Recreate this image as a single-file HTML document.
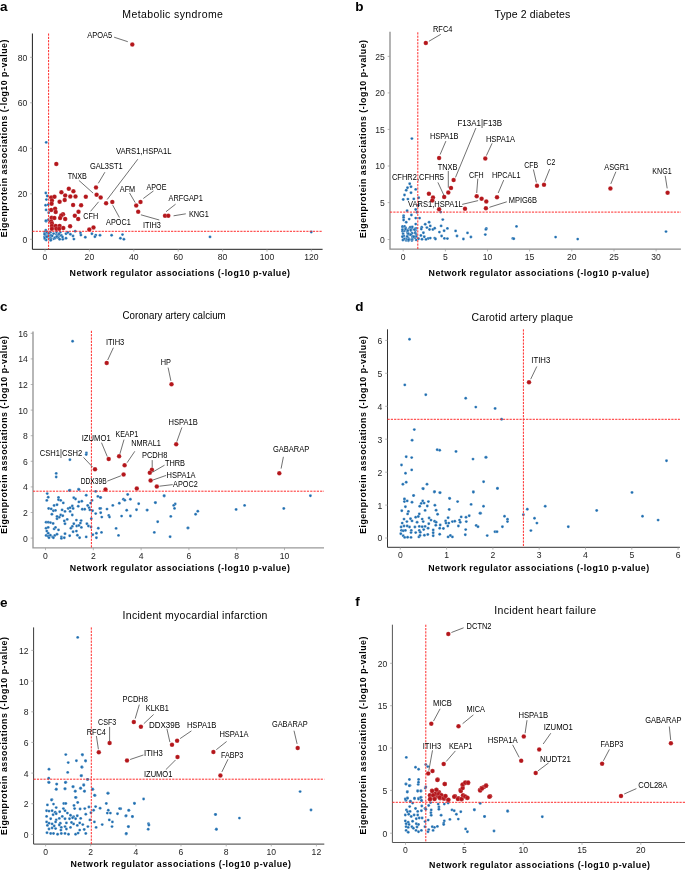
<!DOCTYPE html>
<html><head><meta charset="utf-8"><style>
html,body{margin:0;padding:0;background:#fff;}
svg{display:block;font-family:"Liberation Sans",sans-serif;will-change:transform;}
</style></head><body>
<svg width="685" height="870" viewBox="0 0 685 870">
<rect width="685" height="870" fill="#fff"/>
<text x="0.0" y="10.5" font-size="13.5" text-anchor="start" font-weight="bold" fill="#000">a</text>
<text x="172.6" y="18.0" font-size="10.5" text-anchor="middle" textLength="100.7" lengthAdjust="spacing">Metabolic syndrome</text>
<text x="7.4" y="138.4" font-size="8.8" text-anchor="middle" font-weight="bold" textLength="197.6" lengthAdjust="spacing" transform="rotate(-90 7.4 138.4)" fill="#000">Eigenprotein associations (-log10 p-value)</text>
<text x="179.8" y="275.9" font-size="8.8" text-anchor="middle" font-weight="bold" textLength="220.4" lengthAdjust="spacing" fill="#000">Network regulator associations (-log10 p-value)</text>
<path d="M32.4,33.5 V249.3 H322.6" stroke="#1e1e1e" stroke-width="1" fill="none"/>
<path d="M30.099999999999998,239.3 H32.4" stroke="#999" stroke-width="0.7"/>
<text x="27.3" y="242.7" font-size="8.6" text-anchor="end" fill="#1e1e1e">0</text>
<path d="M30.099999999999998,193.8 H32.4" stroke="#999" stroke-width="0.7"/>
<text x="27.3" y="197.2" font-size="8.6" text-anchor="end" fill="#1e1e1e">20</text>
<path d="M30.099999999999998,148.3 H32.4" stroke="#999" stroke-width="0.7"/>
<text x="27.3" y="151.7" font-size="8.6" text-anchor="end" fill="#1e1e1e">40</text>
<path d="M30.099999999999998,102.8 H32.4" stroke="#999" stroke-width="0.7"/>
<text x="27.3" y="106.2" font-size="8.6" text-anchor="end" fill="#1e1e1e">60</text>
<path d="M30.099999999999998,57.3 H32.4" stroke="#999" stroke-width="0.7"/>
<text x="27.3" y="60.7" font-size="8.6" text-anchor="end" fill="#1e1e1e">80</text>
<path d="M45.0,249.3 V251.60000000000002" stroke="#999" stroke-width="0.7"/>
<text x="45.0" y="259.9" font-size="8.6" text-anchor="middle" fill="#1e1e1e">0</text>
<path d="M89.4,249.3 V251.60000000000002" stroke="#999" stroke-width="0.7"/>
<text x="89.4" y="259.9" font-size="8.6" text-anchor="middle" fill="#1e1e1e">20</text>
<path d="M133.8,249.3 V251.60000000000002" stroke="#999" stroke-width="0.7"/>
<text x="133.8" y="259.9" font-size="8.6" text-anchor="middle" fill="#1e1e1e">40</text>
<path d="M178.2,249.3 V251.60000000000002" stroke="#999" stroke-width="0.7"/>
<text x="178.2" y="259.9" font-size="8.6" text-anchor="middle" fill="#1e1e1e">60</text>
<path d="M222.6,249.3 V251.60000000000002" stroke="#999" stroke-width="0.7"/>
<text x="222.6" y="259.9" font-size="8.6" text-anchor="middle" fill="#1e1e1e">80</text>
<path d="M267.0,249.3 V251.60000000000002" stroke="#999" stroke-width="0.7"/>
<text x="267.0" y="259.9" font-size="8.6" text-anchor="middle" fill="#1e1e1e">100</text>
<path d="M311.4,249.3 V251.60000000000002" stroke="#999" stroke-width="0.7"/>
<text x="311.4" y="259.9" font-size="8.6" text-anchor="middle" fill="#1e1e1e">120</text>
<circle cx="46.2" cy="142.4" r="1.45" fill="#1f6eb0" stroke="#fff" stroke-width="0.35" stroke-opacity="0.7"/>
<circle cx="45.8" cy="193.0" r="1.45" fill="#1f6eb0" stroke="#fff" stroke-width="0.35" stroke-opacity="0.7"/>
<circle cx="47.2" cy="196.0" r="1.45" fill="#1f6eb0" stroke="#fff" stroke-width="0.35" stroke-opacity="0.7"/>
<circle cx="46.4" cy="199.6" r="1.45" fill="#1f6eb0" stroke="#fff" stroke-width="0.35" stroke-opacity="0.7"/>
<circle cx="45.6" cy="205.2" r="1.45" fill="#1f6eb0" stroke="#fff" stroke-width="0.35" stroke-opacity="0.7"/>
<circle cx="48.2" cy="204.7" r="1.45" fill="#1f6eb0" stroke="#fff" stroke-width="0.35" stroke-opacity="0.7"/>
<circle cx="46.1" cy="209.9" r="1.45" fill="#1f6eb0" stroke="#fff" stroke-width="0.35" stroke-opacity="0.7"/>
<circle cx="48.7" cy="212.8" r="1.45" fill="#1f6eb0" stroke="#fff" stroke-width="0.35" stroke-opacity="0.7"/>
<circle cx="46.1" cy="221.2" r="1.45" fill="#1f6eb0" stroke="#fff" stroke-width="0.35" stroke-opacity="0.7"/>
<circle cx="48.2" cy="220.0" r="1.45" fill="#1f6eb0" stroke="#fff" stroke-width="0.35" stroke-opacity="0.7"/>
<circle cx="45.8" cy="230.3" r="1.45" fill="#1f6eb0" stroke="#fff" stroke-width="0.35" stroke-opacity="0.7"/>
<circle cx="45.9" cy="220.7" r="1.45" fill="#1f6eb0" stroke="#fff" stroke-width="0.35" stroke-opacity="0.7"/>
<circle cx="66.0" cy="233.8" r="1.45" fill="#1f6eb0" stroke="#fff" stroke-width="0.35" stroke-opacity="0.7"/>
<circle cx="67.8" cy="232.5" r="1.45" fill="#1f6eb0" stroke="#fff" stroke-width="0.35" stroke-opacity="0.7"/>
<circle cx="70.4" cy="234.3" r="1.45" fill="#1f6eb0" stroke="#fff" stroke-width="0.35" stroke-opacity="0.7"/>
<circle cx="73.0" cy="236.0" r="1.45" fill="#1f6eb0" stroke="#fff" stroke-width="0.35" stroke-opacity="0.7"/>
<circle cx="73.9" cy="239.1" r="1.45" fill="#1f6eb0" stroke="#fff" stroke-width="0.35" stroke-opacity="0.7"/>
<circle cx="66.0" cy="238.2" r="1.45" fill="#1f6eb0" stroke="#fff" stroke-width="0.35" stroke-opacity="0.7"/>
<circle cx="75.2" cy="231.2" r="1.45" fill="#1f6eb0" stroke="#fff" stroke-width="0.35" stroke-opacity="0.7"/>
<circle cx="80.5" cy="233.0" r="1.45" fill="#1f6eb0" stroke="#fff" stroke-width="0.35" stroke-opacity="0.7"/>
<circle cx="80.9" cy="235.1" r="1.45" fill="#1f6eb0" stroke="#fff" stroke-width="0.35" stroke-opacity="0.7"/>
<circle cx="85.3" cy="237.3" r="1.45" fill="#1f6eb0" stroke="#fff" stroke-width="0.35" stroke-opacity="0.7"/>
<circle cx="91.9" cy="233.8" r="1.45" fill="#1f6eb0" stroke="#fff" stroke-width="0.35" stroke-opacity="0.7"/>
<circle cx="95.8" cy="235.1" r="1.45" fill="#1f6eb0" stroke="#fff" stroke-width="0.35" stroke-opacity="0.7"/>
<circle cx="94.9" cy="236.7" r="1.45" fill="#1f6eb0" stroke="#fff" stroke-width="0.35" stroke-opacity="0.7"/>
<circle cx="100.0" cy="235.3" r="1.45" fill="#1f6eb0" stroke="#fff" stroke-width="0.35" stroke-opacity="0.7"/>
<circle cx="111.6" cy="235.3" r="1.45" fill="#1f6eb0" stroke="#fff" stroke-width="0.35" stroke-opacity="0.7"/>
<circle cx="122.5" cy="234.6" r="1.45" fill="#1f6eb0" stroke="#fff" stroke-width="0.35" stroke-opacity="0.7"/>
<circle cx="120.4" cy="238.3" r="1.45" fill="#1f6eb0" stroke="#fff" stroke-width="0.35" stroke-opacity="0.7"/>
<circle cx="123.9" cy="239.3" r="1.45" fill="#1f6eb0" stroke="#fff" stroke-width="0.35" stroke-opacity="0.7"/>
<circle cx="210.0" cy="236.9" r="1.45" fill="#1f6eb0" stroke="#fff" stroke-width="0.35" stroke-opacity="0.7"/>
<circle cx="311.3" cy="232.0" r="1.45" fill="#1f6eb0" stroke="#fff" stroke-width="0.35" stroke-opacity="0.7"/>
<circle cx="45.2" cy="239.2" r="1.45" fill="#1f6eb0" stroke="#fff" stroke-width="0.35" stroke-opacity="0.7"/>
<circle cx="56.5" cy="234.2" r="1.45" fill="#1f6eb0" stroke="#fff" stroke-width="0.35" stroke-opacity="0.7"/>
<circle cx="50.5" cy="235.8" r="1.45" fill="#1f6eb0" stroke="#fff" stroke-width="0.35" stroke-opacity="0.7"/>
<circle cx="53.8" cy="238.7" r="1.45" fill="#1f6eb0" stroke="#fff" stroke-width="0.35" stroke-opacity="0.7"/>
<circle cx="44.9" cy="232.2" r="1.45" fill="#1f6eb0" stroke="#fff" stroke-width="0.35" stroke-opacity="0.7"/>
<circle cx="58.4" cy="235.7" r="1.45" fill="#1f6eb0" stroke="#fff" stroke-width="0.35" stroke-opacity="0.7"/>
<circle cx="56.5" cy="232.0" r="1.45" fill="#1f6eb0" stroke="#fff" stroke-width="0.35" stroke-opacity="0.7"/>
<circle cx="49.6" cy="238.1" r="1.45" fill="#1f6eb0" stroke="#fff" stroke-width="0.35" stroke-opacity="0.7"/>
<circle cx="46.2" cy="240.0" r="1.45" fill="#1f6eb0" stroke="#fff" stroke-width="0.35" stroke-opacity="0.7"/>
<circle cx="60.2" cy="232.3" r="1.45" fill="#1f6eb0" stroke="#fff" stroke-width="0.35" stroke-opacity="0.7"/>
<circle cx="44.6" cy="236.6" r="1.45" fill="#1f6eb0" stroke="#fff" stroke-width="0.35" stroke-opacity="0.7"/>
<circle cx="61.2" cy="235.2" r="1.45" fill="#1f6eb0" stroke="#fff" stroke-width="0.35" stroke-opacity="0.7"/>
<circle cx="46.1" cy="235.6" r="1.45" fill="#1f6eb0" stroke="#fff" stroke-width="0.35" stroke-opacity="0.7"/>
<circle cx="44.6" cy="233.9" r="1.45" fill="#1f6eb0" stroke="#fff" stroke-width="0.35" stroke-opacity="0.7"/>
<circle cx="49.4" cy="236.2" r="1.45" fill="#1f6eb0" stroke="#fff" stroke-width="0.35" stroke-opacity="0.7"/>
<circle cx="46.3" cy="234.0" r="1.45" fill="#1f6eb0" stroke="#fff" stroke-width="0.35" stroke-opacity="0.7"/>
<circle cx="46.1" cy="235.9" r="1.45" fill="#1f6eb0" stroke="#fff" stroke-width="0.35" stroke-opacity="0.7"/>
<circle cx="47.0" cy="232.2" r="1.45" fill="#1f6eb0" stroke="#fff" stroke-width="0.35" stroke-opacity="0.7"/>
<circle cx="58.4" cy="236.7" r="1.45" fill="#1f6eb0" stroke="#fff" stroke-width="0.35" stroke-opacity="0.7"/>
<circle cx="53.6" cy="233.6" r="1.45" fill="#1f6eb0" stroke="#fff" stroke-width="0.35" stroke-opacity="0.7"/>
<circle cx="62.8" cy="239.3" r="1.45" fill="#1f6eb0" stroke="#fff" stroke-width="0.35" stroke-opacity="0.7"/>
<circle cx="45.1" cy="234.8" r="1.45" fill="#1f6eb0" stroke="#fff" stroke-width="0.35" stroke-opacity="0.7"/>
<circle cx="55.5" cy="238.0" r="1.45" fill="#1f6eb0" stroke="#fff" stroke-width="0.35" stroke-opacity="0.7"/>
<circle cx="61.2" cy="235.6" r="1.45" fill="#1f6eb0" stroke="#fff" stroke-width="0.35" stroke-opacity="0.7"/>
<circle cx="58.2" cy="237.7" r="1.45" fill="#1f6eb0" stroke="#fff" stroke-width="0.35" stroke-opacity="0.7"/>
<circle cx="47.2" cy="237.0" r="1.45" fill="#1f6eb0" stroke="#fff" stroke-width="0.35" stroke-opacity="0.7"/>
<circle cx="59.6" cy="239.2" r="1.45" fill="#1f6eb0" stroke="#fff" stroke-width="0.35" stroke-opacity="0.7"/>
<circle cx="50.7" cy="237.0" r="1.45" fill="#1f6eb0" stroke="#fff" stroke-width="0.35" stroke-opacity="0.7"/>
<circle cx="44.6" cy="234.1" r="1.45" fill="#1f6eb0" stroke="#fff" stroke-width="0.35" stroke-opacity="0.7"/>
<circle cx="57.4" cy="235.5" r="1.45" fill="#1f6eb0" stroke="#fff" stroke-width="0.35" stroke-opacity="0.7"/>
<circle cx="45.6" cy="236.7" r="1.45" fill="#1f6eb0" stroke="#fff" stroke-width="0.35" stroke-opacity="0.7"/>
<circle cx="55.0" cy="237.7" r="1.45" fill="#1f6eb0" stroke="#fff" stroke-width="0.35" stroke-opacity="0.7"/>
<circle cx="48.3" cy="235.7" r="1.45" fill="#1f6eb0" stroke="#fff" stroke-width="0.35" stroke-opacity="0.7"/>
<circle cx="50.8" cy="238.6" r="1.45" fill="#1f6eb0" stroke="#fff" stroke-width="0.35" stroke-opacity="0.7"/>
<circle cx="51.0" cy="235.3" r="1.45" fill="#1f6eb0" stroke="#fff" stroke-width="0.35" stroke-opacity="0.7"/>
<circle cx="50.4" cy="232.3" r="1.45" fill="#1f6eb0" stroke="#fff" stroke-width="0.35" stroke-opacity="0.7"/>
<circle cx="44.6" cy="238.0" r="1.45" fill="#1f6eb0" stroke="#fff" stroke-width="0.35" stroke-opacity="0.7"/>
<circle cx="62.5" cy="237.0" r="1.45" fill="#1f6eb0" stroke="#fff" stroke-width="0.35" stroke-opacity="0.7"/>
<circle cx="48.7" cy="233.4" r="1.45" fill="#1f6eb0" stroke="#fff" stroke-width="0.35" stroke-opacity="0.7"/>
<circle cx="50.6" cy="240.3" r="1.45" fill="#1f6eb0" stroke="#fff" stroke-width="0.35" stroke-opacity="0.7"/>
<circle cx="56.7" cy="236.6" r="1.45" fill="#1f6eb0" stroke="#fff" stroke-width="0.35" stroke-opacity="0.7"/>
<circle cx="59.0" cy="234.0" r="1.45" fill="#1f6eb0" stroke="#fff" stroke-width="0.35" stroke-opacity="0.7"/>
<circle cx="50.9" cy="240.1" r="1.45" fill="#1f6eb0" stroke="#fff" stroke-width="0.35" stroke-opacity="0.7"/>
<circle cx="52.2" cy="235.9" r="1.45" fill="#1f6eb0" stroke="#fff" stroke-width="0.35" stroke-opacity="0.7"/>
<circle cx="46.8" cy="236.7" r="1.45" fill="#1f6eb0" stroke="#fff" stroke-width="0.35" stroke-opacity="0.7"/>
<circle cx="132.3" cy="44.5" r="2.25" fill="#b4161b" stroke="#fff" stroke-width="0.3" stroke-opacity="0.6"/>
<circle cx="56.3" cy="163.9" r="2.25" fill="#b4161b" stroke="#fff" stroke-width="0.3" stroke-opacity="0.6"/>
<circle cx="96.0" cy="187.4" r="2.25" fill="#b4161b" stroke="#fff" stroke-width="0.3" stroke-opacity="0.6"/>
<circle cx="68.8" cy="188.7" r="2.25" fill="#b4161b" stroke="#fff" stroke-width="0.3" stroke-opacity="0.6"/>
<circle cx="73.4" cy="191.3" r="2.25" fill="#b4161b" stroke="#fff" stroke-width="0.3" stroke-opacity="0.6"/>
<circle cx="61.4" cy="192.3" r="2.25" fill="#b4161b" stroke="#fff" stroke-width="0.3" stroke-opacity="0.6"/>
<circle cx="65.2" cy="195.4" r="2.25" fill="#b4161b" stroke="#fff" stroke-width="0.3" stroke-opacity="0.6"/>
<circle cx="70.3" cy="196.4" r="2.25" fill="#b4161b" stroke="#fff" stroke-width="0.3" stroke-opacity="0.6"/>
<circle cx="75.5" cy="196.4" r="2.25" fill="#b4161b" stroke="#fff" stroke-width="0.3" stroke-opacity="0.6"/>
<circle cx="85.8" cy="196.7" r="2.25" fill="#b4161b" stroke="#fff" stroke-width="0.3" stroke-opacity="0.6"/>
<circle cx="96.6" cy="194.7" r="2.25" fill="#b4161b" stroke="#fff" stroke-width="0.3" stroke-opacity="0.6"/>
<circle cx="100.7" cy="197.4" r="2.25" fill="#b4161b" stroke="#fff" stroke-width="0.3" stroke-opacity="0.6"/>
<circle cx="51.2" cy="197.4" r="2.25" fill="#b4161b" stroke="#fff" stroke-width="0.3" stroke-opacity="0.6"/>
<circle cx="54.5" cy="196.7" r="2.25" fill="#b4161b" stroke="#fff" stroke-width="0.3" stroke-opacity="0.6"/>
<circle cx="51.9" cy="200.5" r="2.25" fill="#b4161b" stroke="#fff" stroke-width="0.3" stroke-opacity="0.6"/>
<circle cx="64.7" cy="199.9" r="2.25" fill="#b4161b" stroke="#fff" stroke-width="0.3" stroke-opacity="0.6"/>
<circle cx="59.6" cy="201.8" r="2.25" fill="#b4161b" stroke="#fff" stroke-width="0.3" stroke-opacity="0.6"/>
<circle cx="51.6" cy="203.7" r="2.25" fill="#b4161b" stroke="#fff" stroke-width="0.3" stroke-opacity="0.6"/>
<circle cx="73.1" cy="204.9" r="2.25" fill="#b4161b" stroke="#fff" stroke-width="0.3" stroke-opacity="0.6"/>
<circle cx="81.1" cy="205.2" r="2.25" fill="#b4161b" stroke="#fff" stroke-width="0.3" stroke-opacity="0.6"/>
<circle cx="106.1" cy="203.2" r="2.25" fill="#b4161b" stroke="#fff" stroke-width="0.3" stroke-opacity="0.6"/>
<circle cx="112.3" cy="201.9" r="2.25" fill="#b4161b" stroke="#fff" stroke-width="0.3" stroke-opacity="0.6"/>
<circle cx="51.2" cy="209.9" r="2.25" fill="#b4161b" stroke="#fff" stroke-width="0.3" stroke-opacity="0.6"/>
<circle cx="55.1" cy="208.7" r="2.25" fill="#b4161b" stroke="#fff" stroke-width="0.3" stroke-opacity="0.6"/>
<circle cx="55.7" cy="211.9" r="2.25" fill="#b4161b" stroke="#fff" stroke-width="0.3" stroke-opacity="0.6"/>
<circle cx="78.5" cy="211.8" r="2.25" fill="#b4161b" stroke="#fff" stroke-width="0.3" stroke-opacity="0.6"/>
<circle cx="63.0" cy="214.2" r="2.25" fill="#b4161b" stroke="#fff" stroke-width="0.3" stroke-opacity="0.6"/>
<circle cx="61.2" cy="215.4" r="2.25" fill="#b4161b" stroke="#fff" stroke-width="0.3" stroke-opacity="0.6"/>
<circle cx="74.8" cy="215.7" r="2.25" fill="#b4161b" stroke="#fff" stroke-width="0.3" stroke-opacity="0.6"/>
<circle cx="51.6" cy="217.7" r="2.25" fill="#b4161b" stroke="#fff" stroke-width="0.3" stroke-opacity="0.6"/>
<circle cx="54.4" cy="217.9" r="2.25" fill="#b4161b" stroke="#fff" stroke-width="0.3" stroke-opacity="0.6"/>
<circle cx="60.1" cy="218.0" r="2.25" fill="#b4161b" stroke="#fff" stroke-width="0.3" stroke-opacity="0.6"/>
<circle cx="65.2" cy="218.9" r="2.25" fill="#b4161b" stroke="#fff" stroke-width="0.3" stroke-opacity="0.6"/>
<circle cx="78.2" cy="218.9" r="2.25" fill="#b4161b" stroke="#fff" stroke-width="0.3" stroke-opacity="0.6"/>
<circle cx="51.2" cy="221.5" r="2.25" fill="#b4161b" stroke="#fff" stroke-width="0.3" stroke-opacity="0.6"/>
<circle cx="51.9" cy="223.4" r="2.25" fill="#b4161b" stroke="#fff" stroke-width="0.3" stroke-opacity="0.6"/>
<circle cx="51.9" cy="225.9" r="2.25" fill="#b4161b" stroke="#fff" stroke-width="0.3" stroke-opacity="0.6"/>
<circle cx="55.7" cy="225.9" r="2.25" fill="#b4161b" stroke="#fff" stroke-width="0.3" stroke-opacity="0.6"/>
<circle cx="59.6" cy="225.9" r="2.25" fill="#b4161b" stroke="#fff" stroke-width="0.3" stroke-opacity="0.6"/>
<circle cx="70.1" cy="226.2" r="2.25" fill="#b4161b" stroke="#fff" stroke-width="0.3" stroke-opacity="0.6"/>
<circle cx="51.9" cy="228.8" r="2.25" fill="#b4161b" stroke="#fff" stroke-width="0.3" stroke-opacity="0.6"/>
<circle cx="56.3" cy="228.8" r="2.25" fill="#b4161b" stroke="#fff" stroke-width="0.3" stroke-opacity="0.6"/>
<circle cx="59.2" cy="228.8" r="2.25" fill="#b4161b" stroke="#fff" stroke-width="0.3" stroke-opacity="0.6"/>
<circle cx="63.3" cy="228.1" r="2.25" fill="#b4161b" stroke="#fff" stroke-width="0.3" stroke-opacity="0.6"/>
<circle cx="89.3" cy="229.6" r="2.25" fill="#b4161b" stroke="#fff" stroke-width="0.3" stroke-opacity="0.6"/>
<circle cx="93.5" cy="227.4" r="2.25" fill="#b4161b" stroke="#fff" stroke-width="0.3" stroke-opacity="0.6"/>
<circle cx="136.2" cy="205.6" r="2.25" fill="#b4161b" stroke="#fff" stroke-width="0.3" stroke-opacity="0.6"/>
<circle cx="140.5" cy="201.9" r="2.25" fill="#b4161b" stroke="#fff" stroke-width="0.3" stroke-opacity="0.6"/>
<circle cx="138.2" cy="211.7" r="2.25" fill="#b4161b" stroke="#fff" stroke-width="0.3" stroke-opacity="0.6"/>
<circle cx="165.0" cy="215.8" r="2.25" fill="#b4161b" stroke="#fff" stroke-width="0.3" stroke-opacity="0.6"/>
<circle cx="168.3" cy="215.8" r="2.25" fill="#b4161b" stroke="#fff" stroke-width="0.3" stroke-opacity="0.6"/>
<path d="M48.6,33.5 V249.3" stroke="#ff2b2b" stroke-width="1" stroke-dasharray="2.2 1.1"/>
<path d="M32.4,231.3 H322.6" stroke="#ff2b2b" stroke-width="1" stroke-dasharray="2.2 1.1"/>
<path d="M114.1,37.2 L127.8,41.7" stroke="#333" stroke-width="0.7"/>
<text x="87.3" y="37.6" font-size="8.2" text-anchor="start" textLength="24.9" lengthAdjust="spacingAndGlyphs">APOA5</text>
<path d="M104.9,172.2 L98.3,183.3" stroke="#333" stroke-width="0.7"/>
<text x="89.9" y="168.7" font-size="8.2" text-anchor="start" textLength="32.8" lengthAdjust="spacingAndGlyphs">GAL3ST1</text>
<path d="M78.9,180.4 L93.1,193.1" stroke="#333" stroke-width="0.7"/>
<text x="67.7" y="179.2" font-size="8.2" text-anchor="start" textLength="19.2" lengthAdjust="spacingAndGlyphs">TNXB</text>
<path d="M90.6,211.3 L98.6,201.8" stroke="#333" stroke-width="0.7"/>
<text x="83.3" y="218.6" font-size="8.2" text-anchor="start" textLength="14.9" lengthAdjust="spacingAndGlyphs">CFH</text>
<path d="M137.8,159.2 L107.2,199.5" stroke="#333" stroke-width="0.7"/>
<text x="115.9" y="153.9" font-size="8.2" text-anchor="start" textLength="55.6" lengthAdjust="spacingAndGlyphs">VARS1,HSPA1L</text>
<path d="M129.6,193 L135.2,202.6" stroke="#333" stroke-width="0.7"/>
<text x="119.8" y="192.2" font-size="8.2" text-anchor="start" textLength="15.4" lengthAdjust="spacingAndGlyphs">AFM</text>
<path d="M153.5,190.9 L143.3,198.5" stroke="#333" stroke-width="0.7"/>
<text x="146.6" y="189.5" font-size="8.2" text-anchor="start" textLength="19.8" lengthAdjust="spacingAndGlyphs">APOE</text>
<path d="M175.6,204.2 L166,211.7" stroke="#333" stroke-width="0.7"/>
<text x="168.5" y="200.9" font-size="8.2" text-anchor="start" textLength="34.3" lengthAdjust="spacingAndGlyphs">ARFGAP1</text>
<path d="M185.8,213.8 L173.6,215.8" stroke="#333" stroke-width="0.7"/>
<text x="188.9" y="217.3" font-size="8.2" text-anchor="start" textLength="20.0" lengthAdjust="spacingAndGlyphs">KNG1</text>
<path d="M119.4,217.5 L112.7,205.2" stroke="#333" stroke-width="0.7"/>
<text x="106.1" y="225.3" font-size="8.2" text-anchor="start" textLength="24.6" lengthAdjust="spacingAndGlyphs">APOC1</text>
<path d="M159.3,220 L140.9,214.8" stroke="#333" stroke-width="0.7"/>
<text x="142.9" y="227.9" font-size="8.2" text-anchor="start" textLength="18.0" lengthAdjust="spacingAndGlyphs">ITIH3</text>
<text x="355.3" y="11.2" font-size="13.5" text-anchor="start" font-weight="bold" fill="#000">b</text>
<text x="532.4" y="18.0" font-size="10.5" text-anchor="middle" textLength="75.7" lengthAdjust="spacing">Type 2 diabetes</text>
<text x="366.4" y="139.0" font-size="8.8" text-anchor="middle" font-weight="bold" textLength="198" lengthAdjust="spacing" transform="rotate(-90 366.4 139.0)" fill="#000">Eigenprotein associations (-log10 p-value)</text>
<text x="538.9" y="275.9" font-size="8.8" text-anchor="middle" font-weight="bold" textLength="220.6" lengthAdjust="spacing" fill="#000">Network regulator associations (-log10 p-value)</text>
<path d="M390.0,31.7 V249.1 H680.9" stroke="#8c8c8c" stroke-width="1.3" fill="none"/>
<path d="M387.7,239.5 H390.0" stroke="#999" stroke-width="0.7"/>
<text x="384.9" y="242.9" font-size="8.6" text-anchor="end" fill="#1e1e1e">0</text>
<path d="M387.7,202.6 H390.0" stroke="#999" stroke-width="0.7"/>
<text x="384.9" y="206.0" font-size="8.6" text-anchor="end" fill="#1e1e1e">5</text>
<path d="M387.7,166.0 H390.0" stroke="#999" stroke-width="0.7"/>
<text x="384.9" y="169.4" font-size="8.6" text-anchor="end" fill="#1e1e1e">10</text>
<path d="M387.7,129.4 H390.0" stroke="#999" stroke-width="0.7"/>
<text x="384.9" y="132.8" font-size="8.6" text-anchor="end" fill="#1e1e1e">15</text>
<path d="M387.7,92.9 H390.0" stroke="#999" stroke-width="0.7"/>
<text x="384.9" y="96.3" font-size="8.6" text-anchor="end" fill="#1e1e1e">20</text>
<path d="M387.7,56.4 H390.0" stroke="#999" stroke-width="0.7"/>
<text x="384.9" y="59.8" font-size="8.6" text-anchor="end" fill="#1e1e1e">25</text>
<path d="M403.2,249.1 V251.4" stroke="#999" stroke-width="0.7"/>
<text x="403.2" y="259.7" font-size="8.6" text-anchor="middle" fill="#1e1e1e">0</text>
<path d="M445.4,249.1 V251.4" stroke="#999" stroke-width="0.7"/>
<text x="445.4" y="259.7" font-size="8.6" text-anchor="middle" fill="#1e1e1e">5</text>
<path d="M487.5,249.1 V251.4" stroke="#999" stroke-width="0.7"/>
<text x="487.5" y="259.7" font-size="8.6" text-anchor="middle" fill="#1e1e1e">10</text>
<path d="M529.6,249.1 V251.4" stroke="#999" stroke-width="0.7"/>
<text x="529.6" y="259.7" font-size="8.6" text-anchor="middle" fill="#1e1e1e">15</text>
<path d="M571.8,249.1 V251.4" stroke="#999" stroke-width="0.7"/>
<text x="571.8" y="259.7" font-size="8.6" text-anchor="middle" fill="#1e1e1e">20</text>
<path d="M614.0,249.1 V251.4" stroke="#999" stroke-width="0.7"/>
<text x="614.0" y="259.7" font-size="8.6" text-anchor="middle" fill="#1e1e1e">25</text>
<path d="M656.1,249.1 V251.4" stroke="#999" stroke-width="0.7"/>
<text x="656.1" y="259.7" font-size="8.6" text-anchor="middle" fill="#1e1e1e">30</text>
<circle cx="411.9" cy="138.6" r="1.45" fill="#1f6eb0" stroke="#fff" stroke-width="0.35" stroke-opacity="0.7"/>
<circle cx="409.7" cy="183.8" r="1.45" fill="#1f6eb0" stroke="#fff" stroke-width="0.35" stroke-opacity="0.7"/>
<circle cx="411.0" cy="186.8" r="1.45" fill="#1f6eb0" stroke="#fff" stroke-width="0.35" stroke-opacity="0.7"/>
<circle cx="407.5" cy="187.7" r="1.45" fill="#1f6eb0" stroke="#fff" stroke-width="0.35" stroke-opacity="0.7"/>
<circle cx="406.2" cy="190.3" r="1.45" fill="#1f6eb0" stroke="#fff" stroke-width="0.35" stroke-opacity="0.7"/>
<circle cx="415.7" cy="189.4" r="1.45" fill="#1f6eb0" stroke="#fff" stroke-width="0.35" stroke-opacity="0.7"/>
<circle cx="411.0" cy="192.8" r="1.45" fill="#1f6eb0" stroke="#fff" stroke-width="0.35" stroke-opacity="0.7"/>
<circle cx="404.5" cy="195.0" r="1.45" fill="#1f6eb0" stroke="#fff" stroke-width="0.35" stroke-opacity="0.7"/>
<circle cx="403.2" cy="199.5" r="1.45" fill="#1f6eb0" stroke="#fff" stroke-width="0.35" stroke-opacity="0.7"/>
<circle cx="407.9" cy="199.1" r="1.45" fill="#1f6eb0" stroke="#fff" stroke-width="0.35" stroke-opacity="0.7"/>
<circle cx="413.8" cy="198.9" r="1.45" fill="#1f6eb0" stroke="#fff" stroke-width="0.35" stroke-opacity="0.7"/>
<circle cx="418.7" cy="197.8" r="1.45" fill="#1f6eb0" stroke="#fff" stroke-width="0.35" stroke-opacity="0.7"/>
<circle cx="418.3" cy="205.3" r="1.45" fill="#1f6eb0" stroke="#fff" stroke-width="0.35" stroke-opacity="0.7"/>
<circle cx="407.1" cy="210.7" r="1.45" fill="#1f6eb0" stroke="#fff" stroke-width="0.35" stroke-opacity="0.7"/>
<circle cx="415.7" cy="209.5" r="1.45" fill="#1f6eb0" stroke="#fff" stroke-width="0.35" stroke-opacity="0.7"/>
<circle cx="417.0" cy="212.2" r="1.45" fill="#1f6eb0" stroke="#fff" stroke-width="0.35" stroke-opacity="0.7"/>
<circle cx="440.7" cy="212.1" r="1.45" fill="#1f6eb0" stroke="#fff" stroke-width="0.35" stroke-opacity="0.7"/>
<circle cx="403.6" cy="215.7" r="1.45" fill="#1f6eb0" stroke="#fff" stroke-width="0.35" stroke-opacity="0.7"/>
<circle cx="411.4" cy="215.0" r="1.45" fill="#1f6eb0" stroke="#fff" stroke-width="0.35" stroke-opacity="0.7"/>
<circle cx="403.6" cy="217.4" r="1.45" fill="#1f6eb0" stroke="#fff" stroke-width="0.35" stroke-opacity="0.7"/>
<circle cx="409.2" cy="219.1" r="1.45" fill="#1f6eb0" stroke="#fff" stroke-width="0.35" stroke-opacity="0.7"/>
<circle cx="415.7" cy="218.1" r="1.45" fill="#1f6eb0" stroke="#fff" stroke-width="0.35" stroke-opacity="0.7"/>
<circle cx="419.6" cy="218.1" r="1.45" fill="#1f6eb0" stroke="#fff" stroke-width="0.35" stroke-opacity="0.7"/>
<circle cx="442.8" cy="219.6" r="1.45" fill="#1f6eb0" stroke="#fff" stroke-width="0.35" stroke-opacity="0.7"/>
<circle cx="403.6" cy="220.0" r="1.45" fill="#1f6eb0" stroke="#fff" stroke-width="0.35" stroke-opacity="0.7"/>
<circle cx="406.2" cy="222.2" r="1.45" fill="#1f6eb0" stroke="#fff" stroke-width="0.35" stroke-opacity="0.7"/>
<circle cx="415.7" cy="224.1" r="1.45" fill="#1f6eb0" stroke="#fff" stroke-width="0.35" stroke-opacity="0.7"/>
<circle cx="425.2" cy="224.3" r="1.45" fill="#1f6eb0" stroke="#fff" stroke-width="0.35" stroke-opacity="0.7"/>
<circle cx="429.1" cy="222.2" r="1.45" fill="#1f6eb0" stroke="#fff" stroke-width="0.35" stroke-opacity="0.7"/>
<circle cx="430.3" cy="225.9" r="1.45" fill="#1f6eb0" stroke="#fff" stroke-width="0.35" stroke-opacity="0.7"/>
<circle cx="441.1" cy="225.9" r="1.45" fill="#1f6eb0" stroke="#fff" stroke-width="0.35" stroke-opacity="0.7"/>
<circle cx="421.7" cy="227.3" r="1.45" fill="#1f6eb0" stroke="#fff" stroke-width="0.35" stroke-opacity="0.7"/>
<circle cx="426.9" cy="227.6" r="1.45" fill="#1f6eb0" stroke="#fff" stroke-width="0.35" stroke-opacity="0.7"/>
<circle cx="429.5" cy="229.5" r="1.45" fill="#1f6eb0" stroke="#fff" stroke-width="0.35" stroke-opacity="0.7"/>
<circle cx="432.9" cy="229.5" r="1.45" fill="#1f6eb0" stroke="#fff" stroke-width="0.35" stroke-opacity="0.7"/>
<circle cx="434.7" cy="228.2" r="1.45" fill="#1f6eb0" stroke="#fff" stroke-width="0.35" stroke-opacity="0.7"/>
<circle cx="421.3" cy="229.1" r="1.45" fill="#1f6eb0" stroke="#fff" stroke-width="0.35" stroke-opacity="0.7"/>
<circle cx="423.4" cy="232.8" r="1.45" fill="#1f6eb0" stroke="#fff" stroke-width="0.35" stroke-opacity="0.7"/>
<circle cx="439.4" cy="232.1" r="1.45" fill="#1f6eb0" stroke="#fff" stroke-width="0.35" stroke-opacity="0.7"/>
<circle cx="444.1" cy="230.8" r="1.45" fill="#1f6eb0" stroke="#fff" stroke-width="0.35" stroke-opacity="0.7"/>
<circle cx="441.6" cy="236.0" r="1.45" fill="#1f6eb0" stroke="#fff" stroke-width="0.35" stroke-opacity="0.7"/>
<circle cx="434.7" cy="238.1" r="1.45" fill="#1f6eb0" stroke="#fff" stroke-width="0.35" stroke-opacity="0.7"/>
<circle cx="435.5" cy="239.0" r="1.45" fill="#1f6eb0" stroke="#fff" stroke-width="0.35" stroke-opacity="0.7"/>
<circle cx="428.2" cy="238.5" r="1.45" fill="#1f6eb0" stroke="#fff" stroke-width="0.35" stroke-opacity="0.7"/>
<circle cx="430.3" cy="238.1" r="1.45" fill="#1f6eb0" stroke="#fff" stroke-width="0.35" stroke-opacity="0.7"/>
<circle cx="420.9" cy="235.5" r="1.45" fill="#1f6eb0" stroke="#fff" stroke-width="0.35" stroke-opacity="0.7"/>
<circle cx="424.3" cy="236.8" r="1.45" fill="#1f6eb0" stroke="#fff" stroke-width="0.35" stroke-opacity="0.7"/>
<circle cx="418.5" cy="238.8" r="1.45" fill="#1f6eb0" stroke="#fff" stroke-width="0.35" stroke-opacity="0.7"/>
<circle cx="422.0" cy="239.2" r="1.45" fill="#1f6eb0" stroke="#fff" stroke-width="0.35" stroke-opacity="0.7"/>
<circle cx="426.0" cy="239.4" r="1.45" fill="#1f6eb0" stroke="#fff" stroke-width="0.35" stroke-opacity="0.7"/>
<circle cx="447.4" cy="228.4" r="1.45" fill="#1f6eb0" stroke="#fff" stroke-width="0.35" stroke-opacity="0.7"/>
<circle cx="444.4" cy="238.4" r="1.45" fill="#1f6eb0" stroke="#fff" stroke-width="0.35" stroke-opacity="0.7"/>
<circle cx="447.4" cy="238.6" r="1.45" fill="#1f6eb0" stroke="#fff" stroke-width="0.35" stroke-opacity="0.7"/>
<circle cx="455.6" cy="230.9" r="1.45" fill="#1f6eb0" stroke="#fff" stroke-width="0.35" stroke-opacity="0.7"/>
<circle cx="457.0" cy="236.0" r="1.45" fill="#1f6eb0" stroke="#fff" stroke-width="0.35" stroke-opacity="0.7"/>
<circle cx="463.4" cy="239.0" r="1.45" fill="#1f6eb0" stroke="#fff" stroke-width="0.35" stroke-opacity="0.7"/>
<circle cx="467.5" cy="232.9" r="1.45" fill="#1f6eb0" stroke="#fff" stroke-width="0.35" stroke-opacity="0.7"/>
<circle cx="470.9" cy="237.0" r="1.45" fill="#1f6eb0" stroke="#fff" stroke-width="0.35" stroke-opacity="0.7"/>
<circle cx="485.3" cy="234.6" r="1.45" fill="#1f6eb0" stroke="#fff" stroke-width="0.35" stroke-opacity="0.7"/>
<circle cx="486.3" cy="228.4" r="1.45" fill="#1f6eb0" stroke="#fff" stroke-width="0.35" stroke-opacity="0.7"/>
<circle cx="485.9" cy="229.4" r="1.45" fill="#1f6eb0" stroke="#fff" stroke-width="0.35" stroke-opacity="0.7"/>
<circle cx="512.8" cy="238.4" r="1.45" fill="#1f6eb0" stroke="#fff" stroke-width="0.35" stroke-opacity="0.7"/>
<circle cx="516.5" cy="226.4" r="1.45" fill="#1f6eb0" stroke="#fff" stroke-width="0.35" stroke-opacity="0.7"/>
<circle cx="513.8" cy="238.8" r="1.45" fill="#1f6eb0" stroke="#fff" stroke-width="0.35" stroke-opacity="0.7"/>
<circle cx="555.6" cy="237.1" r="1.45" fill="#1f6eb0" stroke="#fff" stroke-width="0.35" stroke-opacity="0.7"/>
<circle cx="577.7" cy="239.1" r="1.45" fill="#1f6eb0" stroke="#fff" stroke-width="0.35" stroke-opacity="0.7"/>
<circle cx="666.0" cy="231.6" r="1.45" fill="#1f6eb0" stroke="#fff" stroke-width="0.35" stroke-opacity="0.7"/>
<circle cx="416.2" cy="239.9" r="1.45" fill="#1f6eb0" stroke="#fff" stroke-width="0.35" stroke-opacity="0.7"/>
<circle cx="402.7" cy="227.2" r="1.45" fill="#1f6eb0" stroke="#fff" stroke-width="0.35" stroke-opacity="0.7"/>
<circle cx="413.9" cy="236.8" r="1.45" fill="#1f6eb0" stroke="#fff" stroke-width="0.35" stroke-opacity="0.7"/>
<circle cx="411.0" cy="230.5" r="1.45" fill="#1f6eb0" stroke="#fff" stroke-width="0.35" stroke-opacity="0.7"/>
<circle cx="410.0" cy="234.9" r="1.45" fill="#1f6eb0" stroke="#fff" stroke-width="0.35" stroke-opacity="0.7"/>
<circle cx="409.6" cy="228.3" r="1.45" fill="#1f6eb0" stroke="#fff" stroke-width="0.35" stroke-opacity="0.7"/>
<circle cx="407.2" cy="231.8" r="1.45" fill="#1f6eb0" stroke="#fff" stroke-width="0.35" stroke-opacity="0.7"/>
<circle cx="411.9" cy="240.6" r="1.45" fill="#1f6eb0" stroke="#fff" stroke-width="0.35" stroke-opacity="0.7"/>
<circle cx="416.0" cy="234.0" r="1.45" fill="#1f6eb0" stroke="#fff" stroke-width="0.35" stroke-opacity="0.7"/>
<circle cx="407.4" cy="229.9" r="1.45" fill="#1f6eb0" stroke="#fff" stroke-width="0.35" stroke-opacity="0.7"/>
<circle cx="402.5" cy="226.4" r="1.45" fill="#1f6eb0" stroke="#fff" stroke-width="0.35" stroke-opacity="0.7"/>
<circle cx="407.7" cy="230.7" r="1.45" fill="#1f6eb0" stroke="#fff" stroke-width="0.35" stroke-opacity="0.7"/>
<circle cx="406.5" cy="239.1" r="1.45" fill="#1f6eb0" stroke="#fff" stroke-width="0.35" stroke-opacity="0.7"/>
<circle cx="408.7" cy="234.2" r="1.45" fill="#1f6eb0" stroke="#fff" stroke-width="0.35" stroke-opacity="0.7"/>
<circle cx="404.6" cy="226.4" r="1.45" fill="#1f6eb0" stroke="#fff" stroke-width="0.35" stroke-opacity="0.7"/>
<circle cx="405.7" cy="228.0" r="1.45" fill="#1f6eb0" stroke="#fff" stroke-width="0.35" stroke-opacity="0.7"/>
<circle cx="408.4" cy="240.7" r="1.45" fill="#1f6eb0" stroke="#fff" stroke-width="0.35" stroke-opacity="0.7"/>
<circle cx="411.1" cy="228.7" r="1.45" fill="#1f6eb0" stroke="#fff" stroke-width="0.35" stroke-opacity="0.7"/>
<circle cx="415.0" cy="237.7" r="1.45" fill="#1f6eb0" stroke="#fff" stroke-width="0.35" stroke-opacity="0.7"/>
<circle cx="412.1" cy="239.3" r="1.45" fill="#1f6eb0" stroke="#fff" stroke-width="0.35" stroke-opacity="0.7"/>
<circle cx="412.6" cy="237.6" r="1.45" fill="#1f6eb0" stroke="#fff" stroke-width="0.35" stroke-opacity="0.7"/>
<circle cx="406.1" cy="240.4" r="1.45" fill="#1f6eb0" stroke="#fff" stroke-width="0.35" stroke-opacity="0.7"/>
<circle cx="416.3" cy="228.4" r="1.45" fill="#1f6eb0" stroke="#fff" stroke-width="0.35" stroke-opacity="0.7"/>
<circle cx="412.5" cy="236.5" r="1.45" fill="#1f6eb0" stroke="#fff" stroke-width="0.35" stroke-opacity="0.7"/>
<circle cx="407.7" cy="233.8" r="1.45" fill="#1f6eb0" stroke="#fff" stroke-width="0.35" stroke-opacity="0.7"/>
<circle cx="408.1" cy="239.6" r="1.45" fill="#1f6eb0" stroke="#fff" stroke-width="0.35" stroke-opacity="0.7"/>
<circle cx="408.3" cy="238.2" r="1.45" fill="#1f6eb0" stroke="#fff" stroke-width="0.35" stroke-opacity="0.7"/>
<circle cx="406.1" cy="239.0" r="1.45" fill="#1f6eb0" stroke="#fff" stroke-width="0.35" stroke-opacity="0.7"/>
<circle cx="415.1" cy="232.8" r="1.45" fill="#1f6eb0" stroke="#fff" stroke-width="0.35" stroke-opacity="0.7"/>
<circle cx="409.3" cy="239.5" r="1.45" fill="#1f6eb0" stroke="#fff" stroke-width="0.35" stroke-opacity="0.7"/>
<circle cx="412.0" cy="233.2" r="1.45" fill="#1f6eb0" stroke="#fff" stroke-width="0.35" stroke-opacity="0.7"/>
<circle cx="404.4" cy="230.8" r="1.45" fill="#1f6eb0" stroke="#fff" stroke-width="0.35" stroke-opacity="0.7"/>
<circle cx="411.5" cy="228.4" r="1.45" fill="#1f6eb0" stroke="#fff" stroke-width="0.35" stroke-opacity="0.7"/>
<circle cx="415.3" cy="229.9" r="1.45" fill="#1f6eb0" stroke="#fff" stroke-width="0.35" stroke-opacity="0.7"/>
<circle cx="415.3" cy="230.6" r="1.45" fill="#1f6eb0" stroke="#fff" stroke-width="0.35" stroke-opacity="0.7"/>
<circle cx="416.2" cy="236.4" r="1.45" fill="#1f6eb0" stroke="#fff" stroke-width="0.35" stroke-opacity="0.7"/>
<circle cx="408.3" cy="233.6" r="1.45" fill="#1f6eb0" stroke="#fff" stroke-width="0.35" stroke-opacity="0.7"/>
<circle cx="410.7" cy="234.6" r="1.45" fill="#1f6eb0" stroke="#fff" stroke-width="0.35" stroke-opacity="0.7"/>
<circle cx="405.5" cy="229.1" r="1.45" fill="#1f6eb0" stroke="#fff" stroke-width="0.35" stroke-opacity="0.7"/>
<circle cx="408.5" cy="239.7" r="1.45" fill="#1f6eb0" stroke="#fff" stroke-width="0.35" stroke-opacity="0.7"/>
<circle cx="410.3" cy="227.1" r="1.45" fill="#1f6eb0" stroke="#fff" stroke-width="0.35" stroke-opacity="0.7"/>
<circle cx="413.7" cy="236.7" r="1.45" fill="#1f6eb0" stroke="#fff" stroke-width="0.35" stroke-opacity="0.7"/>
<circle cx="415.3" cy="228.8" r="1.45" fill="#1f6eb0" stroke="#fff" stroke-width="0.35" stroke-opacity="0.7"/>
<circle cx="412.3" cy="226.9" r="1.45" fill="#1f6eb0" stroke="#fff" stroke-width="0.35" stroke-opacity="0.7"/>
<circle cx="410.7" cy="230.0" r="1.45" fill="#1f6eb0" stroke="#fff" stroke-width="0.35" stroke-opacity="0.7"/>
<circle cx="404.4" cy="238.9" r="1.45" fill="#1f6eb0" stroke="#fff" stroke-width="0.35" stroke-opacity="0.7"/>
<circle cx="403.1" cy="233.7" r="1.45" fill="#1f6eb0" stroke="#fff" stroke-width="0.35" stroke-opacity="0.7"/>
<circle cx="414.3" cy="229.6" r="1.45" fill="#1f6eb0" stroke="#fff" stroke-width="0.35" stroke-opacity="0.7"/>
<circle cx="404.2" cy="238.9" r="1.45" fill="#1f6eb0" stroke="#fff" stroke-width="0.35" stroke-opacity="0.7"/>
<circle cx="407.1" cy="236.5" r="1.45" fill="#1f6eb0" stroke="#fff" stroke-width="0.35" stroke-opacity="0.7"/>
<circle cx="402.5" cy="231.3" r="1.45" fill="#1f6eb0" stroke="#fff" stroke-width="0.35" stroke-opacity="0.7"/>
<circle cx="403.8" cy="235.9" r="1.45" fill="#1f6eb0" stroke="#fff" stroke-width="0.35" stroke-opacity="0.7"/>
<circle cx="402.9" cy="240.0" r="1.45" fill="#1f6eb0" stroke="#fff" stroke-width="0.35" stroke-opacity="0.7"/>
<circle cx="402.4" cy="236.7" r="1.45" fill="#1f6eb0" stroke="#fff" stroke-width="0.35" stroke-opacity="0.7"/>
<circle cx="402.4" cy="229.8" r="1.45" fill="#1f6eb0" stroke="#fff" stroke-width="0.35" stroke-opacity="0.7"/>
<circle cx="425.8" cy="42.9" r="2.25" fill="#b4161b" stroke="#fff" stroke-width="0.3" stroke-opacity="0.6"/>
<circle cx="439.1" cy="158.0" r="2.25" fill="#b4161b" stroke="#fff" stroke-width="0.3" stroke-opacity="0.6"/>
<circle cx="453.6" cy="180.1" r="2.25" fill="#b4161b" stroke="#fff" stroke-width="0.3" stroke-opacity="0.6"/>
<circle cx="451.0" cy="187.9" r="2.25" fill="#b4161b" stroke="#fff" stroke-width="0.3" stroke-opacity="0.6"/>
<circle cx="448.3" cy="192.6" r="2.25" fill="#b4161b" stroke="#fff" stroke-width="0.3" stroke-opacity="0.6"/>
<circle cx="444.2" cy="196.9" r="2.25" fill="#b4161b" stroke="#fff" stroke-width="0.3" stroke-opacity="0.6"/>
<circle cx="428.9" cy="193.8" r="2.25" fill="#b4161b" stroke="#fff" stroke-width="0.3" stroke-opacity="0.6"/>
<circle cx="433.0" cy="197.5" r="2.25" fill="#b4161b" stroke="#fff" stroke-width="0.3" stroke-opacity="0.6"/>
<circle cx="432.3" cy="200.5" r="2.25" fill="#b4161b" stroke="#fff" stroke-width="0.3" stroke-opacity="0.6"/>
<circle cx="439.1" cy="209.3" r="2.25" fill="#b4161b" stroke="#fff" stroke-width="0.3" stroke-opacity="0.6"/>
<circle cx="465.0" cy="208.7" r="2.25" fill="#b4161b" stroke="#fff" stroke-width="0.3" stroke-opacity="0.6"/>
<circle cx="476.7" cy="196.2" r="2.25" fill="#b4161b" stroke="#fff" stroke-width="0.3" stroke-opacity="0.6"/>
<circle cx="481.6" cy="198.7" r="2.25" fill="#b4161b" stroke="#fff" stroke-width="0.3" stroke-opacity="0.6"/>
<circle cx="486.3" cy="201.4" r="2.25" fill="#b4161b" stroke="#fff" stroke-width="0.3" stroke-opacity="0.6"/>
<circle cx="485.9" cy="208.2" r="2.25" fill="#b4161b" stroke="#fff" stroke-width="0.3" stroke-opacity="0.6"/>
<circle cx="497.0" cy="197.3" r="2.25" fill="#b4161b" stroke="#fff" stroke-width="0.3" stroke-opacity="0.6"/>
<circle cx="485.3" cy="158.6" r="2.25" fill="#b4161b" stroke="#fff" stroke-width="0.3" stroke-opacity="0.6"/>
<circle cx="537.0" cy="185.8" r="2.25" fill="#b4161b" stroke="#fff" stroke-width="0.3" stroke-opacity="0.6"/>
<circle cx="544.0" cy="184.8" r="2.25" fill="#b4161b" stroke="#fff" stroke-width="0.3" stroke-opacity="0.6"/>
<circle cx="610.4" cy="188.4" r="2.25" fill="#b4161b" stroke="#fff" stroke-width="0.3" stroke-opacity="0.6"/>
<circle cx="667.6" cy="192.7" r="2.25" fill="#b4161b" stroke="#fff" stroke-width="0.3" stroke-opacity="0.6"/>
<path d="M417.8,32.3 V249.1" stroke="#ff2b2b" stroke-width="1" stroke-dasharray="2.2 1.1"/>
<path d="M390.0,212.1 H680.9" stroke="#ff2b2b" stroke-width="1" stroke-dasharray="2.2 1.1"/>
<path d="M440.8,34.3 L428.9,41.3" stroke="#333" stroke-width="0.7"/>
<text x="433.0" y="32.1" font-size="8.2" text-anchor="start" textLength="19.4" lengthAdjust="spacingAndGlyphs">RFC4</text>
<path d="M445.9,141.1 L440.1,154.6" stroke="#333" stroke-width="0.7"/>
<text x="429.9" y="138.9" font-size="8.2" text-anchor="start" textLength="28.6" lengthAdjust="spacingAndGlyphs">HSPA1B</text>
<path d="M475.9,128 L455.5,177.4" stroke="#333" stroke-width="0.7"/>
<text x="457.5" y="126.1" font-size="8.2" text-anchor="start" textLength="44.6" lengthAdjust="spacingAndGlyphs">F13A1|F13B</text>
<path d="M448.3,170.9 L448.3,187.7" stroke="#333" stroke-width="0.7"/>
<text x="437.7" y="169.5" font-size="8.2" text-anchor="start" textLength="19.8" lengthAdjust="spacingAndGlyphs">TNXB</text>
<path d="M437.9,182.4 L444,195.5" stroke="#333" stroke-width="0.7"/>
<text x="391.9" y="180.1" font-size="8.2" text-anchor="start" textLength="52.1" lengthAdjust="spacingAndGlyphs">CFHR2,CFHR5</text>
<path d="M462.2,204.4 L478.1,200.6" stroke="#333" stroke-width="0.7"/>
<text x="408.0" y="207.3" font-size="8.2" text-anchor="start" textLength="54.6" lengthAdjust="spacingAndGlyphs">VARS1,HSPA1L</text>
<path d="M492.1,143.3 L486.4,155.6" stroke="#333" stroke-width="0.7"/>
<text x="485.9" y="141.7" font-size="8.2" text-anchor="start" textLength="29.1" lengthAdjust="spacingAndGlyphs">HSPA1A</text>
<path d="M477.8,178.7 L476.7,193" stroke="#333" stroke-width="0.7"/>
<text x="469.0" y="178.1" font-size="8.2" text-anchor="start" textLength="14.6" lengthAdjust="spacingAndGlyphs">CFH</text>
<path d="M503.7,180.1 L498.2,193" stroke="#333" stroke-width="0.7"/>
<text x="492.1" y="177.5" font-size="8.2" text-anchor="start" textLength="28.4" lengthAdjust="spacingAndGlyphs">HPCAL1</text>
<path d="M506.8,201.8 L489.4,207.3" stroke="#333" stroke-width="0.7"/>
<text x="508.8" y="203.4" font-size="8.2" text-anchor="start" textLength="28.2" lengthAdjust="spacingAndGlyphs">MPIG6B</text>
<path d="M533.4,169.5 L536.4,182.4" stroke="#333" stroke-width="0.7"/>
<text x="524.2" y="167.7" font-size="8.2" text-anchor="start" textLength="13.9" lengthAdjust="spacingAndGlyphs">CFB</text>
<path d="M549.7,169.1 L544.6,181.7" stroke="#333" stroke-width="0.7"/>
<text x="546.6" y="164.8" font-size="8.2" text-anchor="start" textLength="8.8" lengthAdjust="spacingAndGlyphs">C2</text>
<path d="M615.9,171.7 L610.8,183.9" stroke="#333" stroke-width="0.7"/>
<text x="604.3" y="169.5" font-size="8.2" text-anchor="start" textLength="24.9" lengthAdjust="spacingAndGlyphs">ASGR1</text>
<path d="M665.2,175.8 L667.2,188.4" stroke="#333" stroke-width="0.7"/>
<text x="652.3" y="174.2" font-size="8.2" text-anchor="start" textLength="19.4" lengthAdjust="spacingAndGlyphs">KNG1</text>
<text x="0.0" y="311.0" font-size="13.5" text-anchor="start" font-weight="bold" fill="#000">c</text>
<text x="174.1" y="319.0" font-size="10.8" text-anchor="middle" textLength="103.2" lengthAdjust="spacingAndGlyphs">Coronary artery calcium</text>
<text x="7.3" y="434.9" font-size="8.8" text-anchor="middle" font-weight="bold" textLength="197.9" lengthAdjust="spacing" transform="rotate(-90 7.3 434.9)" fill="#000">Eigenprotein associations (-log10 p-value)</text>
<text x="179.8" y="571.4" font-size="8.8" text-anchor="middle" font-weight="bold" textLength="220.2" lengthAdjust="spacing" fill="#000">Network regulator associations (-log10 p-value)</text>
<path d="M33.0,331.4 V547.9 H324.0" stroke="#999999" stroke-width="1.4" fill="none"/>
<path d="M30.7,538.1 H33.0" stroke="#999" stroke-width="0.7"/>
<text x="27.9" y="541.5" font-size="8.6" text-anchor="end" fill="#1e1e1e">0</text>
<path d="M30.7,512.5 H33.0" stroke="#999" stroke-width="0.7"/>
<text x="27.9" y="515.9" font-size="8.6" text-anchor="end" fill="#1e1e1e">2</text>
<path d="M30.7,486.9 H33.0" stroke="#999" stroke-width="0.7"/>
<text x="27.9" y="490.3" font-size="8.6" text-anchor="end" fill="#1e1e1e">4</text>
<path d="M30.7,461.3 H33.0" stroke="#999" stroke-width="0.7"/>
<text x="27.9" y="464.7" font-size="8.6" text-anchor="end" fill="#1e1e1e">6</text>
<path d="M30.7,435.7 H33.0" stroke="#999" stroke-width="0.7"/>
<text x="27.9" y="439.1" font-size="8.6" text-anchor="end" fill="#1e1e1e">8</text>
<path d="M30.7,410.1 H33.0" stroke="#999" stroke-width="0.7"/>
<text x="27.9" y="413.5" font-size="8.6" text-anchor="end" fill="#1e1e1e">10</text>
<path d="M30.7,384.5 H33.0" stroke="#999" stroke-width="0.7"/>
<text x="27.9" y="387.9" font-size="8.6" text-anchor="end" fill="#1e1e1e">12</text>
<path d="M30.7,358.9 H33.0" stroke="#999" stroke-width="0.7"/>
<text x="27.9" y="362.3" font-size="8.6" text-anchor="end" fill="#1e1e1e">14</text>
<path d="M30.7,333.3 H33.0" stroke="#999" stroke-width="0.7"/>
<text x="27.9" y="336.7" font-size="8.6" text-anchor="end" fill="#1e1e1e">16</text>
<path d="M45.5,547.9 V550.1999999999999" stroke="#999" stroke-width="0.7"/>
<text x="45.5" y="558.5" font-size="8.6" text-anchor="middle" fill="#1e1e1e">0</text>
<path d="M93.3,547.9 V550.1999999999999" stroke="#999" stroke-width="0.7"/>
<text x="93.3" y="558.5" font-size="8.6" text-anchor="middle" fill="#1e1e1e">2</text>
<path d="M141.1,547.9 V550.1999999999999" stroke="#999" stroke-width="0.7"/>
<text x="141.1" y="558.5" font-size="8.6" text-anchor="middle" fill="#1e1e1e">4</text>
<path d="M188.9,547.9 V550.1999999999999" stroke="#999" stroke-width="0.7"/>
<text x="188.9" y="558.5" font-size="8.6" text-anchor="middle" fill="#1e1e1e">6</text>
<path d="M236.7,547.9 V550.1999999999999" stroke="#999" stroke-width="0.7"/>
<text x="236.7" y="558.5" font-size="8.6" text-anchor="middle" fill="#1e1e1e">8</text>
<path d="M284.5,547.9 V550.1999999999999" stroke="#999" stroke-width="0.7"/>
<text x="284.5" y="558.5" font-size="8.6" text-anchor="middle" fill="#1e1e1e">10</text>
<circle cx="72.6" cy="341.2" r="1.45" fill="#1f6eb0" stroke="#fff" stroke-width="0.35" stroke-opacity="0.7"/>
<circle cx="86.4" cy="452.9" r="1.45" fill="#1f6eb0" stroke="#fff" stroke-width="0.35" stroke-opacity="0.7"/>
<circle cx="86.2" cy="454.6" r="1.45" fill="#1f6eb0" stroke="#fff" stroke-width="0.35" stroke-opacity="0.7"/>
<circle cx="69.9" cy="459.7" r="1.45" fill="#1f6eb0" stroke="#fff" stroke-width="0.35" stroke-opacity="0.7"/>
<circle cx="56.2" cy="473.4" r="1.45" fill="#1f6eb0" stroke="#fff" stroke-width="0.35" stroke-opacity="0.7"/>
<circle cx="56.2" cy="477.0" r="1.45" fill="#1f6eb0" stroke="#fff" stroke-width="0.35" stroke-opacity="0.7"/>
<circle cx="69.9" cy="490.1" r="1.45" fill="#1f6eb0" stroke="#fff" stroke-width="0.35" stroke-opacity="0.7"/>
<circle cx="78.6" cy="489.3" r="1.45" fill="#1f6eb0" stroke="#fff" stroke-width="0.35" stroke-opacity="0.7"/>
<circle cx="100.7" cy="497.4" r="1.45" fill="#1f6eb0" stroke="#fff" stroke-width="0.35" stroke-opacity="0.7"/>
<circle cx="127.7" cy="494.5" r="1.45" fill="#1f6eb0" stroke="#fff" stroke-width="0.35" stroke-opacity="0.7"/>
<circle cx="123.4" cy="499.2" r="1.45" fill="#1f6eb0" stroke="#fff" stroke-width="0.35" stroke-opacity="0.7"/>
<circle cx="124.8" cy="500.3" r="1.45" fill="#1f6eb0" stroke="#fff" stroke-width="0.35" stroke-opacity="0.7"/>
<circle cx="130.4" cy="499.3" r="1.45" fill="#1f6eb0" stroke="#fff" stroke-width="0.35" stroke-opacity="0.7"/>
<circle cx="164.2" cy="496.0" r="1.45" fill="#1f6eb0" stroke="#fff" stroke-width="0.35" stroke-opacity="0.7"/>
<circle cx="112.8" cy="505.4" r="1.45" fill="#1f6eb0" stroke="#fff" stroke-width="0.35" stroke-opacity="0.7"/>
<circle cx="119.3" cy="503.2" r="1.45" fill="#1f6eb0" stroke="#fff" stroke-width="0.35" stroke-opacity="0.7"/>
<circle cx="138.7" cy="503.7" r="1.45" fill="#1f6eb0" stroke="#fff" stroke-width="0.35" stroke-opacity="0.7"/>
<circle cx="155.5" cy="502.8" r="1.45" fill="#1f6eb0" stroke="#fff" stroke-width="0.35" stroke-opacity="0.7"/>
<circle cx="100.7" cy="508.4" r="1.45" fill="#1f6eb0" stroke="#fff" stroke-width="0.35" stroke-opacity="0.7"/>
<circle cx="100.7" cy="512.7" r="1.45" fill="#1f6eb0" stroke="#fff" stroke-width="0.35" stroke-opacity="0.7"/>
<circle cx="107.0" cy="509.1" r="1.45" fill="#1f6eb0" stroke="#fff" stroke-width="0.35" stroke-opacity="0.7"/>
<circle cx="126.7" cy="510.3" r="1.45" fill="#1f6eb0" stroke="#fff" stroke-width="0.35" stroke-opacity="0.7"/>
<circle cx="136.5" cy="509.8" r="1.45" fill="#1f6eb0" stroke="#fff" stroke-width="0.35" stroke-opacity="0.7"/>
<circle cx="147.0" cy="510.1" r="1.45" fill="#1f6eb0" stroke="#fff" stroke-width="0.35" stroke-opacity="0.7"/>
<circle cx="175.2" cy="504.0" r="1.45" fill="#1f6eb0" stroke="#fff" stroke-width="0.35" stroke-opacity="0.7"/>
<circle cx="173.7" cy="505.4" r="1.45" fill="#1f6eb0" stroke="#fff" stroke-width="0.35" stroke-opacity="0.7"/>
<circle cx="174.5" cy="508.4" r="1.45" fill="#1f6eb0" stroke="#fff" stroke-width="0.35" stroke-opacity="0.7"/>
<circle cx="197.8" cy="511.3" r="1.45" fill="#1f6eb0" stroke="#fff" stroke-width="0.35" stroke-opacity="0.7"/>
<circle cx="195.6" cy="514.2" r="1.45" fill="#1f6eb0" stroke="#fff" stroke-width="0.35" stroke-opacity="0.7"/>
<circle cx="101.8" cy="517.1" r="1.45" fill="#1f6eb0" stroke="#fff" stroke-width="0.35" stroke-opacity="0.7"/>
<circle cx="108.8" cy="515.4" r="1.45" fill="#1f6eb0" stroke="#fff" stroke-width="0.35" stroke-opacity="0.7"/>
<circle cx="109.5" cy="517.1" r="1.45" fill="#1f6eb0" stroke="#fff" stroke-width="0.35" stroke-opacity="0.7"/>
<circle cx="121.6" cy="516.1" r="1.45" fill="#1f6eb0" stroke="#fff" stroke-width="0.35" stroke-opacity="0.7"/>
<circle cx="130.4" cy="516.0" r="1.45" fill="#1f6eb0" stroke="#fff" stroke-width="0.35" stroke-opacity="0.7"/>
<circle cx="170.8" cy="516.4" r="1.45" fill="#1f6eb0" stroke="#fff" stroke-width="0.35" stroke-opacity="0.7"/>
<circle cx="157.7" cy="521.8" r="1.45" fill="#1f6eb0" stroke="#fff" stroke-width="0.35" stroke-opacity="0.7"/>
<circle cx="116.1" cy="528.4" r="1.45" fill="#1f6eb0" stroke="#fff" stroke-width="0.35" stroke-opacity="0.7"/>
<circle cx="101.5" cy="532.4" r="1.45" fill="#1f6eb0" stroke="#fff" stroke-width="0.35" stroke-opacity="0.7"/>
<circle cx="118.5" cy="535.4" r="1.45" fill="#1f6eb0" stroke="#fff" stroke-width="0.35" stroke-opacity="0.7"/>
<circle cx="154.3" cy="532.4" r="1.45" fill="#1f6eb0" stroke="#fff" stroke-width="0.35" stroke-opacity="0.7"/>
<circle cx="170.1" cy="536.8" r="1.45" fill="#1f6eb0" stroke="#fff" stroke-width="0.35" stroke-opacity="0.7"/>
<circle cx="187.9" cy="528.1" r="1.45" fill="#1f6eb0" stroke="#fff" stroke-width="0.35" stroke-opacity="0.7"/>
<circle cx="164.1" cy="495.8" r="1.45" fill="#1f6eb0" stroke="#fff" stroke-width="0.35" stroke-opacity="0.7"/>
<circle cx="155.3" cy="502.6" r="1.45" fill="#1f6eb0" stroke="#fff" stroke-width="0.35" stroke-opacity="0.7"/>
<circle cx="147.2" cy="510.1" r="1.45" fill="#1f6eb0" stroke="#fff" stroke-width="0.35" stroke-opacity="0.7"/>
<circle cx="188.0" cy="527.9" r="1.45" fill="#1f6eb0" stroke="#fff" stroke-width="0.35" stroke-opacity="0.7"/>
<circle cx="236.1" cy="509.5" r="1.45" fill="#1f6eb0" stroke="#fff" stroke-width="0.35" stroke-opacity="0.7"/>
<circle cx="244.6" cy="505.4" r="1.45" fill="#1f6eb0" stroke="#fff" stroke-width="0.35" stroke-opacity="0.7"/>
<circle cx="283.8" cy="508.5" r="1.45" fill="#1f6eb0" stroke="#fff" stroke-width="0.35" stroke-opacity="0.7"/>
<circle cx="310.4" cy="495.8" r="1.45" fill="#1f6eb0" stroke="#fff" stroke-width="0.35" stroke-opacity="0.7"/>
<circle cx="47.2" cy="493.6" r="1.45" fill="#1f6eb0" stroke="#fff" stroke-width="0.35" stroke-opacity="0.7"/>
<circle cx="48.2" cy="497.2" r="1.45" fill="#1f6eb0" stroke="#fff" stroke-width="0.35" stroke-opacity="0.7"/>
<circle cx="46.8" cy="500.4" r="1.45" fill="#1f6eb0" stroke="#fff" stroke-width="0.35" stroke-opacity="0.7"/>
<circle cx="58.5" cy="497.5" r="1.45" fill="#1f6eb0" stroke="#fff" stroke-width="0.35" stroke-opacity="0.7"/>
<circle cx="58.5" cy="499.7" r="1.45" fill="#1f6eb0" stroke="#fff" stroke-width="0.35" stroke-opacity="0.7"/>
<circle cx="60.7" cy="500.4" r="1.45" fill="#1f6eb0" stroke="#fff" stroke-width="0.35" stroke-opacity="0.7"/>
<circle cx="63.3" cy="502.9" r="1.45" fill="#1f6eb0" stroke="#fff" stroke-width="0.35" stroke-opacity="0.7"/>
<circle cx="73.8" cy="497.8" r="1.45" fill="#1f6eb0" stroke="#fff" stroke-width="0.35" stroke-opacity="0.7"/>
<circle cx="75.5" cy="499.0" r="1.45" fill="#1f6eb0" stroke="#fff" stroke-width="0.35" stroke-opacity="0.7"/>
<circle cx="78.9" cy="501.9" r="1.45" fill="#1f6eb0" stroke="#fff" stroke-width="0.35" stroke-opacity="0.7"/>
<circle cx="81.8" cy="501.2" r="1.45" fill="#1f6eb0" stroke="#fff" stroke-width="0.35" stroke-opacity="0.7"/>
<circle cx="86.2" cy="495.3" r="1.45" fill="#1f6eb0" stroke="#fff" stroke-width="0.35" stroke-opacity="0.7"/>
<circle cx="69.4" cy="490.5" r="1.45" fill="#1f6eb0" stroke="#fff" stroke-width="0.35" stroke-opacity="0.7"/>
<circle cx="78.9" cy="489.5" r="1.45" fill="#1f6eb0" stroke="#fff" stroke-width="0.35" stroke-opacity="0.7"/>
<circle cx="95.7" cy="491.4" r="1.45" fill="#1f6eb0" stroke="#fff" stroke-width="0.35" stroke-opacity="0.7"/>
<circle cx="97.9" cy="496.4" r="1.45" fill="#1f6eb0" stroke="#fff" stroke-width="0.35" stroke-opacity="0.7"/>
<circle cx="100.4" cy="497.5" r="1.45" fill="#1f6eb0" stroke="#fff" stroke-width="0.35" stroke-opacity="0.7"/>
<circle cx="92.0" cy="500.4" r="1.45" fill="#1f6eb0" stroke="#fff" stroke-width="0.35" stroke-opacity="0.7"/>
<circle cx="90.6" cy="503.1" r="1.45" fill="#1f6eb0" stroke="#fff" stroke-width="0.35" stroke-opacity="0.7"/>
<circle cx="54.1" cy="505.5" r="1.45" fill="#1f6eb0" stroke="#fff" stroke-width="0.35" stroke-opacity="0.7"/>
<circle cx="57.0" cy="504.8" r="1.45" fill="#1f6eb0" stroke="#fff" stroke-width="0.35" stroke-opacity="0.7"/>
<circle cx="48.7" cy="508.5" r="1.45" fill="#1f6eb0" stroke="#fff" stroke-width="0.35" stroke-opacity="0.7"/>
<circle cx="51.2" cy="508.9" r="1.45" fill="#1f6eb0" stroke="#fff" stroke-width="0.35" stroke-opacity="0.7"/>
<circle cx="53.4" cy="510.7" r="1.45" fill="#1f6eb0" stroke="#fff" stroke-width="0.35" stroke-opacity="0.7"/>
<circle cx="55.5" cy="510.4" r="1.45" fill="#1f6eb0" stroke="#fff" stroke-width="0.35" stroke-opacity="0.7"/>
<circle cx="51.9" cy="514.3" r="1.45" fill="#1f6eb0" stroke="#fff" stroke-width="0.35" stroke-opacity="0.7"/>
<circle cx="62.1" cy="509.9" r="1.45" fill="#1f6eb0" stroke="#fff" stroke-width="0.35" stroke-opacity="0.7"/>
<circle cx="65.0" cy="511.4" r="1.45" fill="#1f6eb0" stroke="#fff" stroke-width="0.35" stroke-opacity="0.7"/>
<circle cx="68.2" cy="508.5" r="1.45" fill="#1f6eb0" stroke="#fff" stroke-width="0.35" stroke-opacity="0.7"/>
<circle cx="70.1" cy="507.7" r="1.45" fill="#1f6eb0" stroke="#fff" stroke-width="0.35" stroke-opacity="0.7"/>
<circle cx="72.3" cy="506.0" r="1.45" fill="#1f6eb0" stroke="#fff" stroke-width="0.35" stroke-opacity="0.7"/>
<circle cx="73.1" cy="508.5" r="1.45" fill="#1f6eb0" stroke="#fff" stroke-width="0.35" stroke-opacity="0.7"/>
<circle cx="70.1" cy="511.4" r="1.45" fill="#1f6eb0" stroke="#fff" stroke-width="0.35" stroke-opacity="0.7"/>
<circle cx="78.2" cy="506.3" r="1.45" fill="#1f6eb0" stroke="#fff" stroke-width="0.35" stroke-opacity="0.7"/>
<circle cx="82.3" cy="509.2" r="1.45" fill="#1f6eb0" stroke="#fff" stroke-width="0.35" stroke-opacity="0.7"/>
<circle cx="84.7" cy="509.2" r="1.45" fill="#1f6eb0" stroke="#fff" stroke-width="0.35" stroke-opacity="0.7"/>
<circle cx="87.7" cy="505.5" r="1.45" fill="#1f6eb0" stroke="#fff" stroke-width="0.35" stroke-opacity="0.7"/>
<circle cx="89.1" cy="507.7" r="1.45" fill="#1f6eb0" stroke="#fff" stroke-width="0.35" stroke-opacity="0.7"/>
<circle cx="89.9" cy="509.9" r="1.45" fill="#1f6eb0" stroke="#fff" stroke-width="0.35" stroke-opacity="0.7"/>
<circle cx="92.5" cy="510.7" r="1.45" fill="#1f6eb0" stroke="#fff" stroke-width="0.35" stroke-opacity="0.7"/>
<circle cx="95.7" cy="513.6" r="1.45" fill="#1f6eb0" stroke="#fff" stroke-width="0.35" stroke-opacity="0.7"/>
<circle cx="99.8" cy="508.5" r="1.45" fill="#1f6eb0" stroke="#fff" stroke-width="0.35" stroke-opacity="0.7"/>
<circle cx="57.0" cy="518.7" r="1.45" fill="#1f6eb0" stroke="#fff" stroke-width="0.35" stroke-opacity="0.7"/>
<circle cx="59.2" cy="517.2" r="1.45" fill="#1f6eb0" stroke="#fff" stroke-width="0.35" stroke-opacity="0.7"/>
<circle cx="60.7" cy="515.0" r="1.45" fill="#1f6eb0" stroke="#fff" stroke-width="0.35" stroke-opacity="0.7"/>
<circle cx="62.8" cy="515.8" r="1.45" fill="#1f6eb0" stroke="#fff" stroke-width="0.35" stroke-opacity="0.7"/>
<circle cx="67.2" cy="519.4" r="1.45" fill="#1f6eb0" stroke="#fff" stroke-width="0.35" stroke-opacity="0.7"/>
<circle cx="64.3" cy="520.9" r="1.45" fill="#1f6eb0" stroke="#fff" stroke-width="0.35" stroke-opacity="0.7"/>
<circle cx="65.0" cy="523.8" r="1.45" fill="#1f6eb0" stroke="#fff" stroke-width="0.35" stroke-opacity="0.7"/>
<circle cx="72.3" cy="515.0" r="1.45" fill="#1f6eb0" stroke="#fff" stroke-width="0.35" stroke-opacity="0.7"/>
<circle cx="76.4" cy="520.1" r="1.45" fill="#1f6eb0" stroke="#fff" stroke-width="0.35" stroke-opacity="0.7"/>
<circle cx="81.1" cy="520.6" r="1.45" fill="#1f6eb0" stroke="#fff" stroke-width="0.35" stroke-opacity="0.7"/>
<circle cx="80.4" cy="523.1" r="1.45" fill="#1f6eb0" stroke="#fff" stroke-width="0.35" stroke-opacity="0.7"/>
<circle cx="73.8" cy="523.8" r="1.45" fill="#1f6eb0" stroke="#fff" stroke-width="0.35" stroke-opacity="0.7"/>
<circle cx="72.3" cy="526.4" r="1.45" fill="#1f6eb0" stroke="#fff" stroke-width="0.35" stroke-opacity="0.7"/>
<circle cx="76.7" cy="526.0" r="1.45" fill="#1f6eb0" stroke="#fff" stroke-width="0.35" stroke-opacity="0.7"/>
<circle cx="78.9" cy="525.5" r="1.45" fill="#1f6eb0" stroke="#fff" stroke-width="0.35" stroke-opacity="0.7"/>
<circle cx="81.4" cy="527.4" r="1.45" fill="#1f6eb0" stroke="#fff" stroke-width="0.35" stroke-opacity="0.7"/>
<circle cx="70.9" cy="528.2" r="1.45" fill="#1f6eb0" stroke="#fff" stroke-width="0.35" stroke-opacity="0.7"/>
<circle cx="73.1" cy="531.8" r="1.45" fill="#1f6eb0" stroke="#fff" stroke-width="0.35" stroke-opacity="0.7"/>
<circle cx="76.4" cy="531.1" r="1.45" fill="#1f6eb0" stroke="#fff" stroke-width="0.35" stroke-opacity="0.7"/>
<circle cx="77.4" cy="535.2" r="1.45" fill="#1f6eb0" stroke="#fff" stroke-width="0.35" stroke-opacity="0.7"/>
<circle cx="69.7" cy="535.8" r="1.45" fill="#1f6eb0" stroke="#fff" stroke-width="0.35" stroke-opacity="0.7"/>
<circle cx="79.6" cy="537.7" r="1.45" fill="#1f6eb0" stroke="#fff" stroke-width="0.35" stroke-opacity="0.7"/>
<circle cx="86.9" cy="523.8" r="1.45" fill="#1f6eb0" stroke="#fff" stroke-width="0.35" stroke-opacity="0.7"/>
<circle cx="88.4" cy="526.0" r="1.45" fill="#1f6eb0" stroke="#fff" stroke-width="0.35" stroke-opacity="0.7"/>
<circle cx="91.3" cy="518.7" r="1.45" fill="#1f6eb0" stroke="#fff" stroke-width="0.35" stroke-opacity="0.7"/>
<circle cx="91.0" cy="527.0" r="1.45" fill="#1f6eb0" stroke="#fff" stroke-width="0.35" stroke-opacity="0.7"/>
<circle cx="86.2" cy="536.9" r="1.45" fill="#1f6eb0" stroke="#fff" stroke-width="0.35" stroke-opacity="0.7"/>
<circle cx="92.8" cy="534.7" r="1.45" fill="#1f6eb0" stroke="#fff" stroke-width="0.35" stroke-opacity="0.7"/>
<circle cx="96.4" cy="533.3" r="1.45" fill="#1f6eb0" stroke="#fff" stroke-width="0.35" stroke-opacity="0.7"/>
<circle cx="96.4" cy="537.7" r="1.45" fill="#1f6eb0" stroke="#fff" stroke-width="0.35" stroke-opacity="0.7"/>
<circle cx="98.3" cy="528.2" r="1.45" fill="#1f6eb0" stroke="#fff" stroke-width="0.35" stroke-opacity="0.7"/>
<circle cx="46.1" cy="522.3" r="1.45" fill="#1f6eb0" stroke="#fff" stroke-width="0.35" stroke-opacity="0.7"/>
<circle cx="48.2" cy="522.3" r="1.45" fill="#1f6eb0" stroke="#fff" stroke-width="0.35" stroke-opacity="0.7"/>
<circle cx="50.4" cy="522.6" r="1.45" fill="#1f6eb0" stroke="#fff" stroke-width="0.35" stroke-opacity="0.7"/>
<circle cx="53.1" cy="523.5" r="1.45" fill="#1f6eb0" stroke="#fff" stroke-width="0.35" stroke-opacity="0.7"/>
<circle cx="46.1" cy="528.2" r="1.45" fill="#1f6eb0" stroke="#fff" stroke-width="0.35" stroke-opacity="0.7"/>
<circle cx="48.2" cy="527.4" r="1.45" fill="#1f6eb0" stroke="#fff" stroke-width="0.35" stroke-opacity="0.7"/>
<circle cx="54.1" cy="528.9" r="1.45" fill="#1f6eb0" stroke="#fff" stroke-width="0.35" stroke-opacity="0.7"/>
<circle cx="55.5" cy="527.4" r="1.45" fill="#1f6eb0" stroke="#fff" stroke-width="0.35" stroke-opacity="0.7"/>
<circle cx="58.5" cy="529.9" r="1.45" fill="#1f6eb0" stroke="#fff" stroke-width="0.35" stroke-opacity="0.7"/>
<circle cx="46.8" cy="531.1" r="1.45" fill="#1f6eb0" stroke="#fff" stroke-width="0.35" stroke-opacity="0.7"/>
<circle cx="48.2" cy="533.3" r="1.45" fill="#1f6eb0" stroke="#fff" stroke-width="0.35" stroke-opacity="0.7"/>
<circle cx="46.1" cy="535.5" r="1.45" fill="#1f6eb0" stroke="#fff" stroke-width="0.35" stroke-opacity="0.7"/>
<circle cx="48.2" cy="536.2" r="1.45" fill="#1f6eb0" stroke="#fff" stroke-width="0.35" stroke-opacity="0.7"/>
<circle cx="50.4" cy="535.2" r="1.45" fill="#1f6eb0" stroke="#fff" stroke-width="0.35" stroke-opacity="0.7"/>
<circle cx="52.6" cy="536.9" r="1.45" fill="#1f6eb0" stroke="#fff" stroke-width="0.35" stroke-opacity="0.7"/>
<circle cx="54.8" cy="535.5" r="1.45" fill="#1f6eb0" stroke="#fff" stroke-width="0.35" stroke-opacity="0.7"/>
<circle cx="57.0" cy="534.3" r="1.45" fill="#1f6eb0" stroke="#fff" stroke-width="0.35" stroke-opacity="0.7"/>
<circle cx="61.4" cy="536.9" r="1.45" fill="#1f6eb0" stroke="#fff" stroke-width="0.35" stroke-opacity="0.7"/>
<circle cx="61.4" cy="538.4" r="1.45" fill="#1f6eb0" stroke="#fff" stroke-width="0.35" stroke-opacity="0.7"/>
<circle cx="64.3" cy="537.7" r="1.45" fill="#1f6eb0" stroke="#fff" stroke-width="0.35" stroke-opacity="0.7"/>
<circle cx="65.0" cy="533.7" r="1.45" fill="#1f6eb0" stroke="#fff" stroke-width="0.35" stroke-opacity="0.7"/>
<circle cx="49.0" cy="537.7" r="1.45" fill="#1f6eb0" stroke="#fff" stroke-width="0.35" stroke-opacity="0.7"/>
<circle cx="53.4" cy="537.7" r="1.45" fill="#1f6eb0" stroke="#fff" stroke-width="0.35" stroke-opacity="0.7"/>
<circle cx="57.0" cy="516.5" r="1.45" fill="#1f6eb0" stroke="#fff" stroke-width="0.35" stroke-opacity="0.7"/>
<circle cx="106.7" cy="362.9" r="2.25" fill="#b4161b" stroke="#fff" stroke-width="0.3" stroke-opacity="0.6"/>
<circle cx="171.5" cy="384.3" r="2.25" fill="#b4161b" stroke="#fff" stroke-width="0.3" stroke-opacity="0.6"/>
<circle cx="176.2" cy="444.3" r="2.25" fill="#b4161b" stroke="#fff" stroke-width="0.3" stroke-opacity="0.6"/>
<circle cx="279.3" cy="473.3" r="2.25" fill="#b4161b" stroke="#fff" stroke-width="0.3" stroke-opacity="0.6"/>
<circle cx="108.7" cy="459.0" r="2.25" fill="#b4161b" stroke="#fff" stroke-width="0.3" stroke-opacity="0.6"/>
<circle cx="119.1" cy="456.2" r="2.25" fill="#b4161b" stroke="#fff" stroke-width="0.3" stroke-opacity="0.6"/>
<circle cx="124.6" cy="465.2" r="2.25" fill="#b4161b" stroke="#fff" stroke-width="0.3" stroke-opacity="0.6"/>
<circle cx="95.0" cy="469.3" r="2.25" fill="#b4161b" stroke="#fff" stroke-width="0.3" stroke-opacity="0.6"/>
<circle cx="123.6" cy="474.6" r="2.25" fill="#b4161b" stroke="#fff" stroke-width="0.3" stroke-opacity="0.6"/>
<circle cx="151.9" cy="469.7" r="2.25" fill="#b4161b" stroke="#fff" stroke-width="0.3" stroke-opacity="0.6"/>
<circle cx="149.8" cy="472.7" r="2.25" fill="#b4161b" stroke="#fff" stroke-width="0.3" stroke-opacity="0.6"/>
<circle cx="150.6" cy="480.5" r="2.25" fill="#b4161b" stroke="#fff" stroke-width="0.3" stroke-opacity="0.6"/>
<circle cx="156.8" cy="486.6" r="2.25" fill="#b4161b" stroke="#fff" stroke-width="0.3" stroke-opacity="0.6"/>
<circle cx="105.5" cy="489.4" r="2.25" fill="#b4161b" stroke="#fff" stroke-width="0.3" stroke-opacity="0.6"/>
<circle cx="136.8" cy="488.6" r="2.25" fill="#b4161b" stroke="#fff" stroke-width="0.3" stroke-opacity="0.6"/>
<path d="M91.4,330.8 V547.9" stroke="#ff2b2b" stroke-width="1" stroke-dasharray="2.2 1.1"/>
<path d="M33.0,491.2 H324.0" stroke="#ff2b2b" stroke-width="1" stroke-dasharray="2.2 1.1"/>
<path d="M113.4,347.7 L107.7,360" stroke="#333" stroke-width="0.7"/>
<text x="105.9" y="345.3" font-size="8.2" text-anchor="start" textLength="18.4" lengthAdjust="spacingAndGlyphs">ITIH3</text>
<path d="M168.1,367.6 L170.9,380.8" stroke="#333" stroke-width="0.7"/>
<text x="160.7" y="364.7" font-size="8.2" text-anchor="start" textLength="10.2" lengthAdjust="spacingAndGlyphs">HP</text>
<path d="M181.9,427.4 L176.8,441.7" stroke="#333" stroke-width="0.7"/>
<text x="168.6" y="425.2" font-size="8.2" text-anchor="start" textLength="29.2" lengthAdjust="spacingAndGlyphs">HSPA1B</text>
<path d="M101.5,442.7 L107.3,456.6" stroke="#333" stroke-width="0.7"/>
<text x="81.7" y="441.1" font-size="8.2" text-anchor="start" textLength="29.0" lengthAdjust="spacingAndGlyphs">IZUMO1</text>
<path d="M124,439.6 L119.9,453.9" stroke="#333" stroke-width="0.7"/>
<text x="115.4" y="436.8" font-size="8.2" text-anchor="start" textLength="22.9" lengthAdjust="spacingAndGlyphs">KEAP1</text>
<path d="M134.8,451.3 L127.1,462.7" stroke="#333" stroke-width="0.7"/>
<text x="131.2" y="446.0" font-size="8.2" text-anchor="start" textLength="29.6" lengthAdjust="spacingAndGlyphs">NMRAL1</text>
<path d="M83.5,457.4 L92.7,467.2" stroke="#333" stroke-width="0.7"/>
<text x="39.8" y="456.2" font-size="8.2" text-anchor="start" textLength="42.3" lengthAdjust="spacingAndGlyphs">CSH1|CSH2</text>
<path d="M107.3,481.1 L120.9,475.8" stroke="#333" stroke-width="0.7"/>
<text x="80.7" y="484.4" font-size="8.2" text-anchor="start" textLength="25.9" lengthAdjust="spacingAndGlyphs">DDX39B</text>
<path d="M152.2,460.1 L152.2,467.6" stroke="#333" stroke-width="0.7"/>
<text x="142.0" y="458.3" font-size="8.2" text-anchor="start" textLength="25.3" lengthAdjust="spacingAndGlyphs">PCDH8</text>
<path d="M164.5,465.2 L152.3,472.3" stroke="#333" stroke-width="0.7"/>
<text x="164.9" y="466.4" font-size="8.2" text-anchor="start" textLength="20.1" lengthAdjust="spacingAndGlyphs">THRB</text>
<path d="M166.2,475.4 L152.7,480.1" stroke="#333" stroke-width="0.7"/>
<text x="166.6" y="477.9" font-size="8.2" text-anchor="start" textLength="29.0" lengthAdjust="spacingAndGlyphs">HSPA1A</text>
<path d="M172.7,484.6 L159.4,486.2" stroke="#333" stroke-width="0.7"/>
<text x="173.1" y="486.9" font-size="8.2" text-anchor="start" textLength="24.7" lengthAdjust="spacingAndGlyphs">APOC2</text>
<path d="M283.4,456.8 L281.1,468.6" stroke="#333" stroke-width="0.7"/>
<text x="273.0" y="452.1" font-size="8.2" text-anchor="start" textLength="36.3" lengthAdjust="spacingAndGlyphs">GABARAP</text>
<text x="355.3" y="310.7" font-size="13.5" text-anchor="start" font-weight="bold" fill="#000">d</text>
<text x="522.4" y="320.5" font-size="10.5" text-anchor="middle" textLength="101.6" lengthAdjust="spacing">Carotid artery plaque</text>
<text x="366.4" y="434.9" font-size="8.8" text-anchor="middle" font-weight="bold" textLength="197.9" lengthAdjust="spacing" transform="rotate(-90 366.4 434.9)" fill="#000">Eigenprotein associations (-log10 p-value)</text>
<text x="538.7" y="571.2" font-size="8.8" text-anchor="middle" font-weight="bold" textLength="220.9" lengthAdjust="spacing" fill="#000">Network regulator associations (-log10 p-value)</text>
<path d="M387.5,329.3 V547.3 H679.9" stroke="#333333" stroke-width="1" fill="none"/>
<path d="M385.2,538.0 H387.5" stroke="#999" stroke-width="0.7"/>
<text x="382.4" y="541.4" font-size="8.6" text-anchor="end" fill="#1e1e1e">0</text>
<path d="M385.2,505.1 H387.5" stroke="#999" stroke-width="0.7"/>
<text x="382.4" y="508.5" font-size="8.6" text-anchor="end" fill="#1e1e1e">1</text>
<path d="M385.2,472.2 H387.5" stroke="#999" stroke-width="0.7"/>
<text x="382.4" y="475.6" font-size="8.6" text-anchor="end" fill="#1e1e1e">2</text>
<path d="M385.2,439.2 H387.5" stroke="#999" stroke-width="0.7"/>
<text x="382.4" y="442.6" font-size="8.6" text-anchor="end" fill="#1e1e1e">3</text>
<path d="M385.2,406.3 H387.5" stroke="#999" stroke-width="0.7"/>
<text x="382.4" y="409.7" font-size="8.6" text-anchor="end" fill="#1e1e1e">4</text>
<path d="M385.2,373.3 H387.5" stroke="#999" stroke-width="0.7"/>
<text x="382.4" y="376.7" font-size="8.6" text-anchor="end" fill="#1e1e1e">5</text>
<path d="M385.2,340.4 H387.5" stroke="#999" stroke-width="0.7"/>
<text x="382.4" y="343.8" font-size="8.6" text-anchor="end" fill="#1e1e1e">6</text>
<path d="M400.3,547.3 V549.5999999999999" stroke="#999" stroke-width="0.7"/>
<text x="400.3" y="557.9" font-size="8.6" text-anchor="middle" fill="#1e1e1e">0</text>
<path d="M446.6,547.3 V549.5999999999999" stroke="#999" stroke-width="0.7"/>
<text x="446.6" y="557.9" font-size="8.6" text-anchor="middle" fill="#1e1e1e">1</text>
<path d="M492.9,547.3 V549.5999999999999" stroke="#999" stroke-width="0.7"/>
<text x="492.9" y="557.9" font-size="8.6" text-anchor="middle" fill="#1e1e1e">2</text>
<path d="M539.2,547.3 V549.5999999999999" stroke="#999" stroke-width="0.7"/>
<text x="539.2" y="557.9" font-size="8.6" text-anchor="middle" fill="#1e1e1e">3</text>
<path d="M585.5,547.3 V549.5999999999999" stroke="#999" stroke-width="0.7"/>
<text x="585.5" y="557.9" font-size="8.6" text-anchor="middle" fill="#1e1e1e">4</text>
<path d="M631.8,547.3 V549.5999999999999" stroke="#999" stroke-width="0.7"/>
<text x="631.8" y="557.9" font-size="8.6" text-anchor="middle" fill="#1e1e1e">5</text>
<path d="M678.1,547.3 V549.5999999999999" stroke="#999" stroke-width="0.7"/>
<text x="678.1" y="557.9" font-size="8.6" text-anchor="middle" fill="#1e1e1e">6</text>
<circle cx="409.5" cy="339.3" r="1.45" fill="#1f6eb0" stroke="#fff" stroke-width="0.35" stroke-opacity="0.7"/>
<circle cx="404.8" cy="384.9" r="1.45" fill="#1f6eb0" stroke="#fff" stroke-width="0.35" stroke-opacity="0.7"/>
<circle cx="425.8" cy="394.7" r="1.45" fill="#1f6eb0" stroke="#fff" stroke-width="0.35" stroke-opacity="0.7"/>
<circle cx="465.7" cy="398.2" r="1.45" fill="#1f6eb0" stroke="#fff" stroke-width="0.35" stroke-opacity="0.7"/>
<circle cx="475.8" cy="407.1" r="1.45" fill="#1f6eb0" stroke="#fff" stroke-width="0.35" stroke-opacity="0.7"/>
<circle cx="495.1" cy="408.5" r="1.45" fill="#1f6eb0" stroke="#fff" stroke-width="0.35" stroke-opacity="0.7"/>
<circle cx="501.6" cy="419.3" r="1.45" fill="#1f6eb0" stroke="#fff" stroke-width="0.35" stroke-opacity="0.7"/>
<circle cx="414.3" cy="429.6" r="1.45" fill="#1f6eb0" stroke="#fff" stroke-width="0.35" stroke-opacity="0.7"/>
<circle cx="412.1" cy="440.3" r="1.45" fill="#1f6eb0" stroke="#fff" stroke-width="0.35" stroke-opacity="0.7"/>
<circle cx="437.2" cy="449.7" r="1.45" fill="#1f6eb0" stroke="#fff" stroke-width="0.35" stroke-opacity="0.7"/>
<circle cx="439.7" cy="450.3" r="1.45" fill="#1f6eb0" stroke="#fff" stroke-width="0.35" stroke-opacity="0.7"/>
<circle cx="456.0" cy="451.5" r="1.45" fill="#1f6eb0" stroke="#fff" stroke-width="0.35" stroke-opacity="0.7"/>
<circle cx="406.2" cy="456.8" r="1.45" fill="#1f6eb0" stroke="#fff" stroke-width="0.35" stroke-opacity="0.7"/>
<circle cx="411.7" cy="457.6" r="1.45" fill="#1f6eb0" stroke="#fff" stroke-width="0.35" stroke-opacity="0.7"/>
<circle cx="473.0" cy="459.1" r="1.45" fill="#1f6eb0" stroke="#fff" stroke-width="0.35" stroke-opacity="0.7"/>
<circle cx="485.9" cy="457.4" r="1.45" fill="#1f6eb0" stroke="#fff" stroke-width="0.35" stroke-opacity="0.7"/>
<circle cx="401.5" cy="465.0" r="1.45" fill="#1f6eb0" stroke="#fff" stroke-width="0.35" stroke-opacity="0.7"/>
<circle cx="411.7" cy="469.9" r="1.45" fill="#1f6eb0" stroke="#fff" stroke-width="0.35" stroke-opacity="0.7"/>
<circle cx="405.5" cy="473.2" r="1.45" fill="#1f6eb0" stroke="#fff" stroke-width="0.35" stroke-opacity="0.7"/>
<circle cx="402.9" cy="484.2" r="1.45" fill="#1f6eb0" stroke="#fff" stroke-width="0.35" stroke-opacity="0.7"/>
<circle cx="406.2" cy="482.2" r="1.45" fill="#1f6eb0" stroke="#fff" stroke-width="0.35" stroke-opacity="0.7"/>
<circle cx="427.0" cy="484.2" r="1.45" fill="#1f6eb0" stroke="#fff" stroke-width="0.35" stroke-opacity="0.7"/>
<circle cx="422.9" cy="488.5" r="1.45" fill="#1f6eb0" stroke="#fff" stroke-width="0.35" stroke-opacity="0.7"/>
<circle cx="483.6" cy="481.7" r="1.45" fill="#1f6eb0" stroke="#fff" stroke-width="0.35" stroke-opacity="0.7"/>
<circle cx="497.5" cy="488.3" r="1.45" fill="#1f6eb0" stroke="#fff" stroke-width="0.35" stroke-opacity="0.7"/>
<circle cx="434.2" cy="492.0" r="1.45" fill="#1f6eb0" stroke="#fff" stroke-width="0.35" stroke-opacity="0.7"/>
<circle cx="439.9" cy="492.6" r="1.45" fill="#1f6eb0" stroke="#fff" stroke-width="0.35" stroke-opacity="0.7"/>
<circle cx="473.4" cy="492.0" r="1.45" fill="#1f6eb0" stroke="#fff" stroke-width="0.35" stroke-opacity="0.7"/>
<circle cx="413.7" cy="495.4" r="1.45" fill="#1f6eb0" stroke="#fff" stroke-width="0.35" stroke-opacity="0.7"/>
<circle cx="449.5" cy="498.1" r="1.45" fill="#1f6eb0" stroke="#fff" stroke-width="0.35" stroke-opacity="0.7"/>
<circle cx="404.5" cy="499.1" r="1.45" fill="#1f6eb0" stroke="#fff" stroke-width="0.35" stroke-opacity="0.7"/>
<circle cx="423.2" cy="488.8" r="1.45" fill="#1f6eb0" stroke="#fff" stroke-width="0.35" stroke-opacity="0.7"/>
<circle cx="434.6" cy="491.7" r="1.45" fill="#1f6eb0" stroke="#fff" stroke-width="0.35" stroke-opacity="0.7"/>
<circle cx="440.0" cy="492.7" r="1.45" fill="#1f6eb0" stroke="#fff" stroke-width="0.35" stroke-opacity="0.7"/>
<circle cx="473.3" cy="492.0" r="1.45" fill="#1f6eb0" stroke="#fff" stroke-width="0.35" stroke-opacity="0.7"/>
<circle cx="413.5" cy="495.6" r="1.45" fill="#1f6eb0" stroke="#fff" stroke-width="0.35" stroke-opacity="0.7"/>
<circle cx="404.4" cy="499.0" r="1.45" fill="#1f6eb0" stroke="#fff" stroke-width="0.35" stroke-opacity="0.7"/>
<circle cx="404.4" cy="501.6" r="1.45" fill="#1f6eb0" stroke="#fff" stroke-width="0.35" stroke-opacity="0.7"/>
<circle cx="407.2" cy="500.9" r="1.45" fill="#1f6eb0" stroke="#fff" stroke-width="0.35" stroke-opacity="0.7"/>
<circle cx="412.0" cy="502.2" r="1.45" fill="#1f6eb0" stroke="#fff" stroke-width="0.35" stroke-opacity="0.7"/>
<circle cx="422.7" cy="500.9" r="1.45" fill="#1f6eb0" stroke="#fff" stroke-width="0.35" stroke-opacity="0.7"/>
<circle cx="421.2" cy="503.4" r="1.45" fill="#1f6eb0" stroke="#fff" stroke-width="0.35" stroke-opacity="0.7"/>
<circle cx="424.1" cy="503.1" r="1.45" fill="#1f6eb0" stroke="#fff" stroke-width="0.35" stroke-opacity="0.7"/>
<circle cx="428.4" cy="501.6" r="1.45" fill="#1f6eb0" stroke="#fff" stroke-width="0.35" stroke-opacity="0.7"/>
<circle cx="449.7" cy="498.5" r="1.45" fill="#1f6eb0" stroke="#fff" stroke-width="0.35" stroke-opacity="0.7"/>
<circle cx="457.6" cy="501.6" r="1.45" fill="#1f6eb0" stroke="#fff" stroke-width="0.35" stroke-opacity="0.7"/>
<circle cx="471.1" cy="504.4" r="1.45" fill="#1f6eb0" stroke="#fff" stroke-width="0.35" stroke-opacity="0.7"/>
<circle cx="483.5" cy="506.3" r="1.45" fill="#1f6eb0" stroke="#fff" stroke-width="0.35" stroke-opacity="0.7"/>
<circle cx="405.4" cy="506.7" r="1.45" fill="#1f6eb0" stroke="#fff" stroke-width="0.35" stroke-opacity="0.7"/>
<circle cx="419.7" cy="506.3" r="1.45" fill="#1f6eb0" stroke="#fff" stroke-width="0.35" stroke-opacity="0.7"/>
<circle cx="427.3" cy="506.0" r="1.45" fill="#1f6eb0" stroke="#fff" stroke-width="0.35" stroke-opacity="0.7"/>
<circle cx="434.9" cy="505.3" r="1.45" fill="#1f6eb0" stroke="#fff" stroke-width="0.35" stroke-opacity="0.7"/>
<circle cx="401.8" cy="510.7" r="1.45" fill="#1f6eb0" stroke="#fff" stroke-width="0.35" stroke-opacity="0.7"/>
<circle cx="408.4" cy="511.4" r="1.45" fill="#1f6eb0" stroke="#fff" stroke-width="0.35" stroke-opacity="0.7"/>
<circle cx="407.6" cy="513.9" r="1.45" fill="#1f6eb0" stroke="#fff" stroke-width="0.35" stroke-opacity="0.7"/>
<circle cx="419.3" cy="513.9" r="1.45" fill="#1f6eb0" stroke="#fff" stroke-width="0.35" stroke-opacity="0.7"/>
<circle cx="425.1" cy="510.4" r="1.45" fill="#1f6eb0" stroke="#fff" stroke-width="0.35" stroke-opacity="0.7"/>
<circle cx="436.1" cy="510.2" r="1.45" fill="#1f6eb0" stroke="#fff" stroke-width="0.35" stroke-opacity="0.7"/>
<circle cx="437.6" cy="514.3" r="1.45" fill="#1f6eb0" stroke="#fff" stroke-width="0.35" stroke-opacity="0.7"/>
<circle cx="449.2" cy="509.5" r="1.45" fill="#1f6eb0" stroke="#fff" stroke-width="0.35" stroke-opacity="0.7"/>
<circle cx="480.6" cy="513.3" r="1.45" fill="#1f6eb0" stroke="#fff" stroke-width="0.35" stroke-opacity="0.7"/>
<circle cx="469.2" cy="515.8" r="1.45" fill="#1f6eb0" stroke="#fff" stroke-width="0.35" stroke-opacity="0.7"/>
<circle cx="466.0" cy="517.2" r="1.45" fill="#1f6eb0" stroke="#fff" stroke-width="0.35" stroke-opacity="0.7"/>
<circle cx="461.2" cy="516.9" r="1.45" fill="#1f6eb0" stroke="#fff" stroke-width="0.35" stroke-opacity="0.7"/>
<circle cx="448.1" cy="517.7" r="1.45" fill="#1f6eb0" stroke="#fff" stroke-width="0.35" stroke-opacity="0.7"/>
<circle cx="404.0" cy="519.1" r="1.45" fill="#1f6eb0" stroke="#fff" stroke-width="0.35" stroke-opacity="0.7"/>
<circle cx="410.5" cy="518.7" r="1.45" fill="#1f6eb0" stroke="#fff" stroke-width="0.35" stroke-opacity="0.7"/>
<circle cx="415.7" cy="517.2" r="1.45" fill="#1f6eb0" stroke="#fff" stroke-width="0.35" stroke-opacity="0.7"/>
<circle cx="418.3" cy="516.5" r="1.45" fill="#1f6eb0" stroke="#fff" stroke-width="0.35" stroke-opacity="0.7"/>
<circle cx="422.2" cy="519.1" r="1.45" fill="#1f6eb0" stroke="#fff" stroke-width="0.35" stroke-opacity="0.7"/>
<circle cx="429.1" cy="518.0" r="1.45" fill="#1f6eb0" stroke="#fff" stroke-width="0.35" stroke-opacity="0.7"/>
<circle cx="431.0" cy="520.1" r="1.45" fill="#1f6eb0" stroke="#fff" stroke-width="0.35" stroke-opacity="0.7"/>
<circle cx="434.6" cy="521.3" r="1.45" fill="#1f6eb0" stroke="#fff" stroke-width="0.35" stroke-opacity="0.7"/>
<circle cx="436.1" cy="522.3" r="1.45" fill="#1f6eb0" stroke="#fff" stroke-width="0.35" stroke-opacity="0.7"/>
<circle cx="445.6" cy="520.9" r="1.45" fill="#1f6eb0" stroke="#fff" stroke-width="0.35" stroke-opacity="0.7"/>
<circle cx="452.4" cy="521.6" r="1.45" fill="#1f6eb0" stroke="#fff" stroke-width="0.35" stroke-opacity="0.7"/>
<circle cx="454.8" cy="521.2" r="1.45" fill="#1f6eb0" stroke="#fff" stroke-width="0.35" stroke-opacity="0.7"/>
<circle cx="459.5" cy="520.1" r="1.45" fill="#1f6eb0" stroke="#fff" stroke-width="0.35" stroke-opacity="0.7"/>
<circle cx="460.2" cy="522.3" r="1.45" fill="#1f6eb0" stroke="#fff" stroke-width="0.35" stroke-opacity="0.7"/>
<circle cx="466.3" cy="521.6" r="1.45" fill="#1f6eb0" stroke="#fff" stroke-width="0.35" stroke-opacity="0.7"/>
<circle cx="402.2" cy="523.1" r="1.45" fill="#1f6eb0" stroke="#fff" stroke-width="0.35" stroke-opacity="0.7"/>
<circle cx="406.9" cy="521.6" r="1.45" fill="#1f6eb0" stroke="#fff" stroke-width="0.35" stroke-opacity="0.7"/>
<circle cx="412.0" cy="520.9" r="1.45" fill="#1f6eb0" stroke="#fff" stroke-width="0.35" stroke-opacity="0.7"/>
<circle cx="417.1" cy="522.3" r="1.45" fill="#1f6eb0" stroke="#fff" stroke-width="0.35" stroke-opacity="0.7"/>
<circle cx="423.2" cy="521.6" r="1.45" fill="#1f6eb0" stroke="#fff" stroke-width="0.35" stroke-opacity="0.7"/>
<circle cx="428.8" cy="523.8" r="1.45" fill="#1f6eb0" stroke="#fff" stroke-width="0.35" stroke-opacity="0.7"/>
<circle cx="440.2" cy="525.0" r="1.45" fill="#1f6eb0" stroke="#fff" stroke-width="0.35" stroke-opacity="0.7"/>
<circle cx="446.0" cy="523.1" r="1.45" fill="#1f6eb0" stroke="#fff" stroke-width="0.35" stroke-opacity="0.7"/>
<circle cx="448.8" cy="523.1" r="1.45" fill="#1f6eb0" stroke="#fff" stroke-width="0.35" stroke-opacity="0.7"/>
<circle cx="447.8" cy="526.0" r="1.45" fill="#1f6eb0" stroke="#fff" stroke-width="0.35" stroke-opacity="0.7"/>
<circle cx="458.4" cy="526.0" r="1.45" fill="#1f6eb0" stroke="#fff" stroke-width="0.35" stroke-opacity="0.7"/>
<circle cx="476.2" cy="525.5" r="1.45" fill="#1f6eb0" stroke="#fff" stroke-width="0.35" stroke-opacity="0.7"/>
<circle cx="478.0" cy="526.7" r="1.45" fill="#1f6eb0" stroke="#fff" stroke-width="0.35" stroke-opacity="0.7"/>
<circle cx="401.1" cy="527.0" r="1.45" fill="#1f6eb0" stroke="#fff" stroke-width="0.35" stroke-opacity="0.7"/>
<circle cx="404.0" cy="526.0" r="1.45" fill="#1f6eb0" stroke="#fff" stroke-width="0.35" stroke-opacity="0.7"/>
<circle cx="407.2" cy="526.0" r="1.45" fill="#1f6eb0" stroke="#fff" stroke-width="0.35" stroke-opacity="0.7"/>
<circle cx="409.5" cy="527.0" r="1.45" fill="#1f6eb0" stroke="#fff" stroke-width="0.35" stroke-opacity="0.7"/>
<circle cx="414.9" cy="527.0" r="1.45" fill="#1f6eb0" stroke="#fff" stroke-width="0.35" stroke-opacity="0.7"/>
<circle cx="419.3" cy="526.4" r="1.45" fill="#1f6eb0" stroke="#fff" stroke-width="0.35" stroke-opacity="0.7"/>
<circle cx="422.2" cy="526.7" r="1.45" fill="#1f6eb0" stroke="#fff" stroke-width="0.35" stroke-opacity="0.7"/>
<circle cx="425.1" cy="526.4" r="1.45" fill="#1f6eb0" stroke="#fff" stroke-width="0.35" stroke-opacity="0.7"/>
<circle cx="428.1" cy="528.2" r="1.45" fill="#1f6eb0" stroke="#fff" stroke-width="0.35" stroke-opacity="0.7"/>
<circle cx="435.8" cy="525.3" r="1.45" fill="#1f6eb0" stroke="#fff" stroke-width="0.35" stroke-opacity="0.7"/>
<circle cx="439.7" cy="528.2" r="1.45" fill="#1f6eb0" stroke="#fff" stroke-width="0.35" stroke-opacity="0.7"/>
<circle cx="443.4" cy="528.5" r="1.45" fill="#1f6eb0" stroke="#fff" stroke-width="0.35" stroke-opacity="0.7"/>
<circle cx="433.2" cy="529.9" r="1.45" fill="#1f6eb0" stroke="#fff" stroke-width="0.35" stroke-opacity="0.7"/>
<circle cx="401.4" cy="530.4" r="1.45" fill="#1f6eb0" stroke="#fff" stroke-width="0.35" stroke-opacity="0.7"/>
<circle cx="403.2" cy="530.8" r="1.45" fill="#1f6eb0" stroke="#fff" stroke-width="0.35" stroke-opacity="0.7"/>
<circle cx="405.4" cy="530.4" r="1.45" fill="#1f6eb0" stroke="#fff" stroke-width="0.35" stroke-opacity="0.7"/>
<circle cx="411.3" cy="530.4" r="1.45" fill="#1f6eb0" stroke="#fff" stroke-width="0.35" stroke-opacity="0.7"/>
<circle cx="419.3" cy="530.4" r="1.45" fill="#1f6eb0" stroke="#fff" stroke-width="0.35" stroke-opacity="0.7"/>
<circle cx="423.7" cy="529.6" r="1.45" fill="#1f6eb0" stroke="#fff" stroke-width="0.35" stroke-opacity="0.7"/>
<circle cx="465.7" cy="529.6" r="1.45" fill="#1f6eb0" stroke="#fff" stroke-width="0.35" stroke-opacity="0.7"/>
<circle cx="400.8" cy="533.7" r="1.45" fill="#1f6eb0" stroke="#fff" stroke-width="0.35" stroke-opacity="0.7"/>
<circle cx="411.0" cy="532.6" r="1.45" fill="#1f6eb0" stroke="#fff" stroke-width="0.35" stroke-opacity="0.7"/>
<circle cx="415.7" cy="532.6" r="1.45" fill="#1f6eb0" stroke="#fff" stroke-width="0.35" stroke-opacity="0.7"/>
<circle cx="420.3" cy="532.3" r="1.45" fill="#1f6eb0" stroke="#fff" stroke-width="0.35" stroke-opacity="0.7"/>
<circle cx="433.2" cy="532.8" r="1.45" fill="#1f6eb0" stroke="#fff" stroke-width="0.35" stroke-opacity="0.7"/>
<circle cx="403.2" cy="535.8" r="1.45" fill="#1f6eb0" stroke="#fff" stroke-width="0.35" stroke-opacity="0.7"/>
<circle cx="404.7" cy="537.4" r="1.45" fill="#1f6eb0" stroke="#fff" stroke-width="0.35" stroke-opacity="0.7"/>
<circle cx="407.6" cy="537.2" r="1.45" fill="#1f6eb0" stroke="#fff" stroke-width="0.35" stroke-opacity="0.7"/>
<circle cx="411.0" cy="537.4" r="1.45" fill="#1f6eb0" stroke="#fff" stroke-width="0.35" stroke-opacity="0.7"/>
<circle cx="418.9" cy="536.9" r="1.45" fill="#1f6eb0" stroke="#fff" stroke-width="0.35" stroke-opacity="0.7"/>
<circle cx="420.0" cy="535.5" r="1.45" fill="#1f6eb0" stroke="#fff" stroke-width="0.35" stroke-opacity="0.7"/>
<circle cx="424.4" cy="535.2" r="1.45" fill="#1f6eb0" stroke="#fff" stroke-width="0.35" stroke-opacity="0.7"/>
<circle cx="427.8" cy="534.5" r="1.45" fill="#1f6eb0" stroke="#fff" stroke-width="0.35" stroke-opacity="0.7"/>
<circle cx="433.2" cy="535.8" r="1.45" fill="#1f6eb0" stroke="#fff" stroke-width="0.35" stroke-opacity="0.7"/>
<circle cx="439.7" cy="534.3" r="1.45" fill="#1f6eb0" stroke="#fff" stroke-width="0.35" stroke-opacity="0.7"/>
<circle cx="448.1" cy="536.9" r="1.45" fill="#1f6eb0" stroke="#fff" stroke-width="0.35" stroke-opacity="0.7"/>
<circle cx="450.4" cy="535.5" r="1.45" fill="#1f6eb0" stroke="#fff" stroke-width="0.35" stroke-opacity="0.7"/>
<circle cx="452.4" cy="536.9" r="1.45" fill="#1f6eb0" stroke="#fff" stroke-width="0.35" stroke-opacity="0.7"/>
<circle cx="465.3" cy="534.7" r="1.45" fill="#1f6eb0" stroke="#fff" stroke-width="0.35" stroke-opacity="0.7"/>
<circle cx="486.0" cy="457.2" r="1.45" fill="#1f6eb0" stroke="#fff" stroke-width="0.35" stroke-opacity="0.7"/>
<circle cx="497.4" cy="488.4" r="1.45" fill="#1f6eb0" stroke="#fff" stroke-width="0.35" stroke-opacity="0.7"/>
<circle cx="480.0" cy="513.2" r="1.45" fill="#1f6eb0" stroke="#fff" stroke-width="0.35" stroke-opacity="0.7"/>
<circle cx="504.5" cy="516.2" r="1.45" fill="#1f6eb0" stroke="#fff" stroke-width="0.35" stroke-opacity="0.7"/>
<circle cx="507.5" cy="519.2" r="1.45" fill="#1f6eb0" stroke="#fff" stroke-width="0.35" stroke-opacity="0.7"/>
<circle cx="507.5" cy="521.6" r="1.45" fill="#1f6eb0" stroke="#fff" stroke-width="0.35" stroke-opacity="0.7"/>
<circle cx="502.4" cy="526.7" r="1.45" fill="#1f6eb0" stroke="#fff" stroke-width="0.35" stroke-opacity="0.7"/>
<circle cx="495.0" cy="531.7" r="1.45" fill="#1f6eb0" stroke="#fff" stroke-width="0.35" stroke-opacity="0.7"/>
<circle cx="497.0" cy="531.7" r="1.45" fill="#1f6eb0" stroke="#fff" stroke-width="0.35" stroke-opacity="0.7"/>
<circle cx="487.2" cy="535.6" r="1.45" fill="#1f6eb0" stroke="#fff" stroke-width="0.35" stroke-opacity="0.7"/>
<circle cx="523.4" cy="514.7" r="1.45" fill="#1f6eb0" stroke="#fff" stroke-width="0.35" stroke-opacity="0.7"/>
<circle cx="527.3" cy="509.3" r="1.45" fill="#1f6eb0" stroke="#fff" stroke-width="0.35" stroke-opacity="0.7"/>
<circle cx="545.2" cy="506.3" r="1.45" fill="#1f6eb0" stroke="#fff" stroke-width="0.35" stroke-opacity="0.7"/>
<circle cx="534.5" cy="518.3" r="1.45" fill="#1f6eb0" stroke="#fff" stroke-width="0.35" stroke-opacity="0.7"/>
<circle cx="536.9" cy="523.1" r="1.45" fill="#1f6eb0" stroke="#fff" stroke-width="0.35" stroke-opacity="0.7"/>
<circle cx="530.9" cy="530.6" r="1.45" fill="#1f6eb0" stroke="#fff" stroke-width="0.35" stroke-opacity="0.7"/>
<circle cx="568.3" cy="526.7" r="1.45" fill="#1f6eb0" stroke="#fff" stroke-width="0.35" stroke-opacity="0.7"/>
<circle cx="596.7" cy="510.5" r="1.45" fill="#1f6eb0" stroke="#fff" stroke-width="0.35" stroke-opacity="0.7"/>
<circle cx="632.0" cy="492.5" r="1.45" fill="#1f6eb0" stroke="#fff" stroke-width="0.35" stroke-opacity="0.7"/>
<circle cx="642.5" cy="516.2" r="1.45" fill="#1f6eb0" stroke="#fff" stroke-width="0.35" stroke-opacity="0.7"/>
<circle cx="658.1" cy="520.1" r="1.45" fill="#1f6eb0" stroke="#fff" stroke-width="0.35" stroke-opacity="0.7"/>
<circle cx="666.5" cy="460.8" r="1.45" fill="#1f6eb0" stroke="#fff" stroke-width="0.35" stroke-opacity="0.7"/>
<circle cx="529.0" cy="382.2" r="2.25" fill="#b4161b" stroke="#fff" stroke-width="0.3" stroke-opacity="0.6"/>
<path d="M523.4,329.3 V547.3" stroke="#ff2b2b" stroke-width="1" stroke-dasharray="2.2 1.1"/>
<path d="M387.5,419.3 H679.9" stroke="#ff2b2b" stroke-width="1" stroke-dasharray="2.2 1.1"/>
<path d="M536.8,366.5 L530.7,379.2" stroke="#333" stroke-width="0.7"/>
<text x="531.3" y="362.9" font-size="8.2" text-anchor="start" textLength="19.0" lengthAdjust="spacingAndGlyphs">ITIH3</text>
<text x="0.0" y="606.8" font-size="13.5" text-anchor="start" font-weight="bold" fill="#000">e</text>
<text x="195.0" y="618.5" font-size="10.5" text-anchor="middle" textLength="144.9" lengthAdjust="spacing">Incident myocardial infarction</text>
<text x="7.4" y="736.0" font-size="8.8" text-anchor="middle" font-weight="bold" textLength="197.9" lengthAdjust="spacing" transform="rotate(-90 7.4 736.0)" fill="#000">Eigenprotein associations (-log10 p-value)</text>
<text x="180.7" y="867.3" font-size="8.8" text-anchor="middle" font-weight="bold" textLength="220.4" lengthAdjust="spacing" fill="#000">Network regulator associations (-log10 p-value)</text>
<path d="M33.6,627.4 V844.1 H324.3" stroke="#3a3a3a" stroke-width="1" fill="none"/>
<path d="M31.3,834.4 H33.6" stroke="#999" stroke-width="0.7"/>
<text x="28.5" y="837.8" font-size="8.6" text-anchor="end" fill="#1e1e1e">0</text>
<path d="M31.3,803.7 H33.6" stroke="#999" stroke-width="0.7"/>
<text x="28.5" y="807.1" font-size="8.6" text-anchor="end" fill="#1e1e1e">2</text>
<path d="M31.3,773.1 H33.6" stroke="#999" stroke-width="0.7"/>
<text x="28.5" y="776.5" font-size="8.6" text-anchor="end" fill="#1e1e1e">4</text>
<path d="M31.3,742.4 H33.6" stroke="#999" stroke-width="0.7"/>
<text x="28.5" y="745.8" font-size="8.6" text-anchor="end" fill="#1e1e1e">6</text>
<path d="M31.3,711.8 H33.6" stroke="#999" stroke-width="0.7"/>
<text x="28.5" y="715.2" font-size="8.6" text-anchor="end" fill="#1e1e1e">8</text>
<path d="M31.3,681.1 H33.6" stroke="#999" stroke-width="0.7"/>
<text x="28.5" y="684.5" font-size="8.6" text-anchor="end" fill="#1e1e1e">10</text>
<path d="M31.3,650.4 H33.6" stroke="#999" stroke-width="0.7"/>
<text x="28.5" y="653.8" font-size="8.6" text-anchor="end" fill="#1e1e1e">12</text>
<path d="M45.6,844.1 V846.4" stroke="#999" stroke-width="0.7"/>
<text x="45.6" y="854.7" font-size="8.6" text-anchor="middle" fill="#1e1e1e">0</text>
<path d="M90.7,844.1 V846.4" stroke="#999" stroke-width="0.7"/>
<text x="90.7" y="854.7" font-size="8.6" text-anchor="middle" fill="#1e1e1e">2</text>
<path d="M135.9,844.1 V846.4" stroke="#999" stroke-width="0.7"/>
<text x="135.9" y="854.7" font-size="8.6" text-anchor="middle" fill="#1e1e1e">4</text>
<path d="M181.0,844.1 V846.4" stroke="#999" stroke-width="0.7"/>
<text x="181.0" y="854.7" font-size="8.6" text-anchor="middle" fill="#1e1e1e">6</text>
<path d="M226.2,844.1 V846.4" stroke="#999" stroke-width="0.7"/>
<text x="226.2" y="854.7" font-size="8.6" text-anchor="middle" fill="#1e1e1e">8</text>
<path d="M271.3,844.1 V846.4" stroke="#999" stroke-width="0.7"/>
<text x="271.3" y="854.7" font-size="8.6" text-anchor="middle" fill="#1e1e1e">10</text>
<path d="M316.4,844.1 V846.4" stroke="#999" stroke-width="0.7"/>
<text x="316.4" y="854.7" font-size="8.6" text-anchor="middle" fill="#1e1e1e">12</text>
<circle cx="77.7" cy="637.4" r="1.45" fill="#1f6eb0" stroke="#fff" stroke-width="0.35" stroke-opacity="0.7"/>
<circle cx="82.5" cy="755.0" r="1.45" fill="#1f6eb0" stroke="#fff" stroke-width="0.35" stroke-opacity="0.7"/>
<circle cx="85.7" cy="761.1" r="1.45" fill="#1f6eb0" stroke="#fff" stroke-width="0.35" stroke-opacity="0.7"/>
<circle cx="82.0" cy="767.3" r="1.45" fill="#1f6eb0" stroke="#fff" stroke-width="0.35" stroke-opacity="0.7"/>
<circle cx="81.6" cy="775.8" r="1.45" fill="#1f6eb0" stroke="#fff" stroke-width="0.35" stroke-opacity="0.7"/>
<circle cx="87.4" cy="779.5" r="1.45" fill="#1f6eb0" stroke="#fff" stroke-width="0.35" stroke-opacity="0.7"/>
<circle cx="83.7" cy="785.0" r="1.45" fill="#1f6eb0" stroke="#fff" stroke-width="0.35" stroke-opacity="0.7"/>
<circle cx="92.7" cy="789.1" r="1.45" fill="#1f6eb0" stroke="#fff" stroke-width="0.35" stroke-opacity="0.7"/>
<circle cx="300.1" cy="791.6" r="1.45" fill="#1f6eb0" stroke="#fff" stroke-width="0.35" stroke-opacity="0.7"/>
<circle cx="311.0" cy="810.0" r="1.45" fill="#1f6eb0" stroke="#fff" stroke-width="0.35" stroke-opacity="0.7"/>
<circle cx="215.3" cy="814.4" r="1.45" fill="#1f6eb0" stroke="#fff" stroke-width="0.35" stroke-opacity="0.7"/>
<circle cx="239.4" cy="818.1" r="1.45" fill="#1f6eb0" stroke="#fff" stroke-width="0.35" stroke-opacity="0.7"/>
<circle cx="216.3" cy="829.2" r="1.45" fill="#1f6eb0" stroke="#fff" stroke-width="0.35" stroke-opacity="0.7"/>
<circle cx="65.8" cy="754.6" r="1.45" fill="#1f6eb0" stroke="#fff" stroke-width="0.35" stroke-opacity="0.7"/>
<circle cx="82.3" cy="754.6" r="1.45" fill="#1f6eb0" stroke="#fff" stroke-width="0.35" stroke-opacity="0.7"/>
<circle cx="68.2" cy="762.6" r="1.45" fill="#1f6eb0" stroke="#fff" stroke-width="0.35" stroke-opacity="0.7"/>
<circle cx="76.4" cy="760.7" r="1.45" fill="#1f6eb0" stroke="#fff" stroke-width="0.35" stroke-opacity="0.7"/>
<circle cx="85.5" cy="760.7" r="1.45" fill="#1f6eb0" stroke="#fff" stroke-width="0.35" stroke-opacity="0.7"/>
<circle cx="49.0" cy="769.2" r="1.45" fill="#1f6eb0" stroke="#fff" stroke-width="0.35" stroke-opacity="0.7"/>
<circle cx="81.8" cy="767.0" r="1.45" fill="#1f6eb0" stroke="#fff" stroke-width="0.35" stroke-opacity="0.7"/>
<circle cx="67.7" cy="772.4" r="1.45" fill="#1f6eb0" stroke="#fff" stroke-width="0.35" stroke-opacity="0.7"/>
<circle cx="81.1" cy="775.8" r="1.45" fill="#1f6eb0" stroke="#fff" stroke-width="0.35" stroke-opacity="0.7"/>
<circle cx="48.7" cy="778.2" r="1.45" fill="#1f6eb0" stroke="#fff" stroke-width="0.35" stroke-opacity="0.7"/>
<circle cx="87.7" cy="779.4" r="1.45" fill="#1f6eb0" stroke="#fff" stroke-width="0.35" stroke-opacity="0.7"/>
<circle cx="48.7" cy="782.3" r="1.45" fill="#1f6eb0" stroke="#fff" stroke-width="0.35" stroke-opacity="0.7"/>
<circle cx="56.6" cy="784.1" r="1.45" fill="#1f6eb0" stroke="#fff" stroke-width="0.35" stroke-opacity="0.7"/>
<circle cx="65.8" cy="782.3" r="1.45" fill="#1f6eb0" stroke="#fff" stroke-width="0.35" stroke-opacity="0.7"/>
<circle cx="83.7" cy="785.0" r="1.45" fill="#1f6eb0" stroke="#fff" stroke-width="0.35" stroke-opacity="0.7"/>
<circle cx="73.1" cy="786.7" r="1.45" fill="#1f6eb0" stroke="#fff" stroke-width="0.35" stroke-opacity="0.7"/>
<circle cx="80.4" cy="788.2" r="1.45" fill="#1f6eb0" stroke="#fff" stroke-width="0.35" stroke-opacity="0.7"/>
<circle cx="56.3" cy="789.2" r="1.45" fill="#1f6eb0" stroke="#fff" stroke-width="0.35" stroke-opacity="0.7"/>
<circle cx="65.0" cy="788.9" r="1.45" fill="#1f6eb0" stroke="#fff" stroke-width="0.35" stroke-opacity="0.7"/>
<circle cx="75.3" cy="791.1" r="1.45" fill="#1f6eb0" stroke="#fff" stroke-width="0.35" stroke-opacity="0.7"/>
<circle cx="84.7" cy="791.1" r="1.45" fill="#1f6eb0" stroke="#fff" stroke-width="0.35" stroke-opacity="0.7"/>
<circle cx="92.8" cy="789.2" r="1.45" fill="#1f6eb0" stroke="#fff" stroke-width="0.35" stroke-opacity="0.7"/>
<circle cx="95.0" cy="795.5" r="1.45" fill="#1f6eb0" stroke="#fff" stroke-width="0.35" stroke-opacity="0.7"/>
<circle cx="108.1" cy="793.3" r="1.45" fill="#1f6eb0" stroke="#fff" stroke-width="0.35" stroke-opacity="0.7"/>
<circle cx="76.0" cy="797.4" r="1.45" fill="#1f6eb0" stroke="#fff" stroke-width="0.35" stroke-opacity="0.7"/>
<circle cx="51.9" cy="799.6" r="1.45" fill="#1f6eb0" stroke="#fff" stroke-width="0.35" stroke-opacity="0.7"/>
<circle cx="143.6" cy="799.0" r="1.45" fill="#1f6eb0" stroke="#fff" stroke-width="0.35" stroke-opacity="0.7"/>
<circle cx="134.3" cy="803.1" r="1.45" fill="#1f6eb0" stroke="#fff" stroke-width="0.35" stroke-opacity="0.7"/>
<circle cx="120.7" cy="808.8" r="1.45" fill="#1f6eb0" stroke="#fff" stroke-width="0.35" stroke-opacity="0.7"/>
<circle cx="128.8" cy="810.4" r="1.45" fill="#1f6eb0" stroke="#fff" stroke-width="0.35" stroke-opacity="0.7"/>
<circle cx="125.8" cy="816.1" r="1.45" fill="#1f6eb0" stroke="#fff" stroke-width="0.35" stroke-opacity="0.7"/>
<circle cx="132.4" cy="816.8" r="1.45" fill="#1f6eb0" stroke="#fff" stroke-width="0.35" stroke-opacity="0.7"/>
<circle cx="148.5" cy="823.8" r="1.45" fill="#1f6eb0" stroke="#fff" stroke-width="0.35" stroke-opacity="0.7"/>
<circle cx="148.9" cy="825.0" r="1.45" fill="#1f6eb0" stroke="#fff" stroke-width="0.35" stroke-opacity="0.7"/>
<circle cx="148.2" cy="829.2" r="1.45" fill="#1f6eb0" stroke="#fff" stroke-width="0.35" stroke-opacity="0.7"/>
<circle cx="128.5" cy="826.7" r="1.45" fill="#1f6eb0" stroke="#fff" stroke-width="0.35" stroke-opacity="0.7"/>
<circle cx="126.1" cy="834.0" r="1.45" fill="#1f6eb0" stroke="#fff" stroke-width="0.35" stroke-opacity="0.7"/>
<circle cx="215.6" cy="814.5" r="1.45" fill="#1f6eb0" stroke="#fff" stroke-width="0.35" stroke-opacity="0.7"/>
<circle cx="216.4" cy="829.3" r="1.45" fill="#1f6eb0" stroke="#fff" stroke-width="0.35" stroke-opacity="0.7"/>
<circle cx="49.0" cy="782.5" r="1.45" fill="#1f6eb0" stroke="#fff" stroke-width="0.35" stroke-opacity="0.7"/>
<circle cx="56.8" cy="784.1" r="1.45" fill="#1f6eb0" stroke="#fff" stroke-width="0.35" stroke-opacity="0.7"/>
<circle cx="65.4" cy="782.5" r="1.45" fill="#1f6eb0" stroke="#fff" stroke-width="0.35" stroke-opacity="0.7"/>
<circle cx="56.2" cy="789.2" r="1.45" fill="#1f6eb0" stroke="#fff" stroke-width="0.35" stroke-opacity="0.7"/>
<circle cx="65.0" cy="788.8" r="1.45" fill="#1f6eb0" stroke="#fff" stroke-width="0.35" stroke-opacity="0.7"/>
<circle cx="73.0" cy="786.7" r="1.45" fill="#1f6eb0" stroke="#fff" stroke-width="0.35" stroke-opacity="0.7"/>
<circle cx="75.2" cy="791.2" r="1.45" fill="#1f6eb0" stroke="#fff" stroke-width="0.35" stroke-opacity="0.7"/>
<circle cx="80.7" cy="788.2" r="1.45" fill="#1f6eb0" stroke="#fff" stroke-width="0.35" stroke-opacity="0.7"/>
<circle cx="83.8" cy="785.1" r="1.45" fill="#1f6eb0" stroke="#fff" stroke-width="0.35" stroke-opacity="0.7"/>
<circle cx="84.4" cy="791.2" r="1.45" fill="#1f6eb0" stroke="#fff" stroke-width="0.35" stroke-opacity="0.7"/>
<circle cx="92.6" cy="789.2" r="1.45" fill="#1f6eb0" stroke="#fff" stroke-width="0.35" stroke-opacity="0.7"/>
<circle cx="94.6" cy="795.3" r="1.45" fill="#1f6eb0" stroke="#fff" stroke-width="0.35" stroke-opacity="0.7"/>
<circle cx="107.9" cy="793.3" r="1.45" fill="#1f6eb0" stroke="#fff" stroke-width="0.35" stroke-opacity="0.7"/>
<circle cx="75.6" cy="797.4" r="1.45" fill="#1f6eb0" stroke="#fff" stroke-width="0.35" stroke-opacity="0.7"/>
<circle cx="77.7" cy="802.5" r="1.45" fill="#1f6eb0" stroke="#fff" stroke-width="0.35" stroke-opacity="0.7"/>
<circle cx="74.0" cy="805.5" r="1.45" fill="#1f6eb0" stroke="#fff" stroke-width="0.35" stroke-opacity="0.7"/>
<circle cx="51.5" cy="800.0" r="1.45" fill="#1f6eb0" stroke="#fff" stroke-width="0.35" stroke-opacity="0.7"/>
<circle cx="53.5" cy="804.1" r="1.45" fill="#1f6eb0" stroke="#fff" stroke-width="0.35" stroke-opacity="0.7"/>
<circle cx="47.4" cy="804.9" r="1.45" fill="#1f6eb0" stroke="#fff" stroke-width="0.35" stroke-opacity="0.7"/>
<circle cx="56.2" cy="807.6" r="1.45" fill="#1f6eb0" stroke="#fff" stroke-width="0.35" stroke-opacity="0.7"/>
<circle cx="63.8" cy="803.5" r="1.45" fill="#1f6eb0" stroke="#fff" stroke-width="0.35" stroke-opacity="0.7"/>
<circle cx="65.8" cy="803.5" r="1.45" fill="#1f6eb0" stroke="#fff" stroke-width="0.35" stroke-opacity="0.7"/>
<circle cx="63.4" cy="808.6" r="1.45" fill="#1f6eb0" stroke="#fff" stroke-width="0.35" stroke-opacity="0.7"/>
<circle cx="74.6" cy="808.6" r="1.45" fill="#1f6eb0" stroke="#fff" stroke-width="0.35" stroke-opacity="0.7"/>
<circle cx="80.1" cy="809.0" r="1.45" fill="#1f6eb0" stroke="#fff" stroke-width="0.35" stroke-opacity="0.7"/>
<circle cx="84.8" cy="808.6" r="1.45" fill="#1f6eb0" stroke="#fff" stroke-width="0.35" stroke-opacity="0.7"/>
<circle cx="88.9" cy="807.0" r="1.45" fill="#1f6eb0" stroke="#fff" stroke-width="0.35" stroke-opacity="0.7"/>
<circle cx="93.6" cy="810.2" r="1.45" fill="#1f6eb0" stroke="#fff" stroke-width="0.35" stroke-opacity="0.7"/>
<circle cx="95.6" cy="806.6" r="1.45" fill="#1f6eb0" stroke="#fff" stroke-width="0.35" stroke-opacity="0.7"/>
<circle cx="100.1" cy="808.2" r="1.45" fill="#1f6eb0" stroke="#fff" stroke-width="0.35" stroke-opacity="0.7"/>
<circle cx="106.3" cy="803.5" r="1.45" fill="#1f6eb0" stroke="#fff" stroke-width="0.35" stroke-opacity="0.7"/>
<circle cx="108.3" cy="810.2" r="1.45" fill="#1f6eb0" stroke="#fff" stroke-width="0.35" stroke-opacity="0.7"/>
<circle cx="119.6" cy="808.6" r="1.45" fill="#1f6eb0" stroke="#fff" stroke-width="0.35" stroke-opacity="0.7"/>
<circle cx="134.5" cy="803.5" r="1.45" fill="#1f6eb0" stroke="#fff" stroke-width="0.35" stroke-opacity="0.7"/>
<circle cx="128.8" cy="810.2" r="1.45" fill="#1f6eb0" stroke="#fff" stroke-width="0.35" stroke-opacity="0.7"/>
<circle cx="46.6" cy="810.7" r="1.45" fill="#1f6eb0" stroke="#fff" stroke-width="0.35" stroke-opacity="0.7"/>
<circle cx="49.0" cy="811.1" r="1.45" fill="#1f6eb0" stroke="#fff" stroke-width="0.35" stroke-opacity="0.7"/>
<circle cx="52.1" cy="810.7" r="1.45" fill="#1f6eb0" stroke="#fff" stroke-width="0.35" stroke-opacity="0.7"/>
<circle cx="55.2" cy="812.3" r="1.45" fill="#1f6eb0" stroke="#fff" stroke-width="0.35" stroke-opacity="0.7"/>
<circle cx="59.7" cy="811.7" r="1.45" fill="#1f6eb0" stroke="#fff" stroke-width="0.35" stroke-opacity="0.7"/>
<circle cx="53.1" cy="814.7" r="1.45" fill="#1f6eb0" stroke="#fff" stroke-width="0.35" stroke-opacity="0.7"/>
<circle cx="56.2" cy="813.7" r="1.45" fill="#1f6eb0" stroke="#fff" stroke-width="0.35" stroke-opacity="0.7"/>
<circle cx="65.0" cy="810.7" r="1.45" fill="#1f6eb0" stroke="#fff" stroke-width="0.35" stroke-opacity="0.7"/>
<circle cx="67.4" cy="813.1" r="1.45" fill="#1f6eb0" stroke="#fff" stroke-width="0.35" stroke-opacity="0.7"/>
<circle cx="70.5" cy="815.2" r="1.45" fill="#1f6eb0" stroke="#fff" stroke-width="0.35" stroke-opacity="0.7"/>
<circle cx="73.6" cy="816.8" r="1.45" fill="#1f6eb0" stroke="#fff" stroke-width="0.35" stroke-opacity="0.7"/>
<circle cx="77.3" cy="815.8" r="1.45" fill="#1f6eb0" stroke="#fff" stroke-width="0.35" stroke-opacity="0.7"/>
<circle cx="62.3" cy="816.4" r="1.45" fill="#1f6eb0" stroke="#fff" stroke-width="0.35" stroke-opacity="0.7"/>
<circle cx="85.8" cy="814.3" r="1.45" fill="#1f6eb0" stroke="#fff" stroke-width="0.35" stroke-opacity="0.7"/>
<circle cx="90.9" cy="812.7" r="1.45" fill="#1f6eb0" stroke="#fff" stroke-width="0.35" stroke-opacity="0.7"/>
<circle cx="107.3" cy="813.1" r="1.45" fill="#1f6eb0" stroke="#fff" stroke-width="0.35" stroke-opacity="0.7"/>
<circle cx="110.4" cy="813.1" r="1.45" fill="#1f6eb0" stroke="#fff" stroke-width="0.35" stroke-opacity="0.7"/>
<circle cx="117.5" cy="813.7" r="1.45" fill="#1f6eb0" stroke="#fff" stroke-width="0.35" stroke-opacity="0.7"/>
<circle cx="126.1" cy="815.8" r="1.45" fill="#1f6eb0" stroke="#fff" stroke-width="0.35" stroke-opacity="0.7"/>
<circle cx="132.4" cy="816.4" r="1.45" fill="#1f6eb0" stroke="#fff" stroke-width="0.35" stroke-opacity="0.7"/>
<circle cx="46.6" cy="816.4" r="1.45" fill="#1f6eb0" stroke="#fff" stroke-width="0.35" stroke-opacity="0.7"/>
<circle cx="50.7" cy="818.8" r="1.45" fill="#1f6eb0" stroke="#fff" stroke-width="0.35" stroke-opacity="0.7"/>
<circle cx="56.2" cy="819.9" r="1.45" fill="#1f6eb0" stroke="#fff" stroke-width="0.35" stroke-opacity="0.7"/>
<circle cx="59.3" cy="818.4" r="1.45" fill="#1f6eb0" stroke="#fff" stroke-width="0.35" stroke-opacity="0.7"/>
<circle cx="65.0" cy="818.8" r="1.45" fill="#1f6eb0" stroke="#fff" stroke-width="0.35" stroke-opacity="0.7"/>
<circle cx="69.5" cy="818.8" r="1.45" fill="#1f6eb0" stroke="#fff" stroke-width="0.35" stroke-opacity="0.7"/>
<circle cx="72.6" cy="817.8" r="1.45" fill="#1f6eb0" stroke="#fff" stroke-width="0.35" stroke-opacity="0.7"/>
<circle cx="75.6" cy="818.8" r="1.45" fill="#1f6eb0" stroke="#fff" stroke-width="0.35" stroke-opacity="0.7"/>
<circle cx="80.7" cy="818.4" r="1.45" fill="#1f6eb0" stroke="#fff" stroke-width="0.35" stroke-opacity="0.7"/>
<circle cx="89.9" cy="819.9" r="1.45" fill="#1f6eb0" stroke="#fff" stroke-width="0.35" stroke-opacity="0.7"/>
<circle cx="94.4" cy="821.9" r="1.45" fill="#1f6eb0" stroke="#fff" stroke-width="0.35" stroke-opacity="0.7"/>
<circle cx="109.3" cy="819.9" r="1.45" fill="#1f6eb0" stroke="#fff" stroke-width="0.35" stroke-opacity="0.7"/>
<circle cx="112.4" cy="821.9" r="1.45" fill="#1f6eb0" stroke="#fff" stroke-width="0.35" stroke-opacity="0.7"/>
<circle cx="46.6" cy="821.9" r="1.45" fill="#1f6eb0" stroke="#fff" stroke-width="0.35" stroke-opacity="0.7"/>
<circle cx="49.0" cy="823.3" r="1.45" fill="#1f6eb0" stroke="#fff" stroke-width="0.35" stroke-opacity="0.7"/>
<circle cx="52.1" cy="823.9" r="1.45" fill="#1f6eb0" stroke="#fff" stroke-width="0.35" stroke-opacity="0.7"/>
<circle cx="55.6" cy="821.9" r="1.45" fill="#1f6eb0" stroke="#fff" stroke-width="0.35" stroke-opacity="0.7"/>
<circle cx="60.3" cy="823.3" r="1.45" fill="#1f6eb0" stroke="#fff" stroke-width="0.35" stroke-opacity="0.7"/>
<circle cx="66.4" cy="822.9" r="1.45" fill="#1f6eb0" stroke="#fff" stroke-width="0.35" stroke-opacity="0.7"/>
<circle cx="71.5" cy="822.5" r="1.45" fill="#1f6eb0" stroke="#fff" stroke-width="0.35" stroke-opacity="0.7"/>
<circle cx="73.6" cy="823.9" r="1.45" fill="#1f6eb0" stroke="#fff" stroke-width="0.35" stroke-opacity="0.7"/>
<circle cx="79.7" cy="822.9" r="1.45" fill="#1f6eb0" stroke="#fff" stroke-width="0.35" stroke-opacity="0.7"/>
<circle cx="82.8" cy="824.6" r="1.45" fill="#1f6eb0" stroke="#fff" stroke-width="0.35" stroke-opacity="0.7"/>
<circle cx="47.4" cy="825.4" r="1.45" fill="#1f6eb0" stroke="#fff" stroke-width="0.35" stroke-opacity="0.7"/>
<circle cx="52.1" cy="828.0" r="1.45" fill="#1f6eb0" stroke="#fff" stroke-width="0.35" stroke-opacity="0.7"/>
<circle cx="54.2" cy="826.0" r="1.45" fill="#1f6eb0" stroke="#fff" stroke-width="0.35" stroke-opacity="0.7"/>
<circle cx="59.3" cy="825.0" r="1.45" fill="#1f6eb0" stroke="#fff" stroke-width="0.35" stroke-opacity="0.7"/>
<circle cx="61.3" cy="827.4" r="1.45" fill="#1f6eb0" stroke="#fff" stroke-width="0.35" stroke-opacity="0.7"/>
<circle cx="65.0" cy="826.6" r="1.45" fill="#1f6eb0" stroke="#fff" stroke-width="0.35" stroke-opacity="0.7"/>
<circle cx="70.5" cy="827.4" r="1.45" fill="#1f6eb0" stroke="#fff" stroke-width="0.35" stroke-opacity="0.7"/>
<circle cx="77.3" cy="825.4" r="1.45" fill="#1f6eb0" stroke="#fff" stroke-width="0.35" stroke-opacity="0.7"/>
<circle cx="87.9" cy="826.6" r="1.45" fill="#1f6eb0" stroke="#fff" stroke-width="0.35" stroke-opacity="0.7"/>
<circle cx="96.1" cy="827.4" r="1.45" fill="#1f6eb0" stroke="#fff" stroke-width="0.35" stroke-opacity="0.7"/>
<circle cx="102.2" cy="824.6" r="1.45" fill="#1f6eb0" stroke="#fff" stroke-width="0.35" stroke-opacity="0.7"/>
<circle cx="112.0" cy="826.6" r="1.45" fill="#1f6eb0" stroke="#fff" stroke-width="0.35" stroke-opacity="0.7"/>
<circle cx="128.3" cy="826.6" r="1.45" fill="#1f6eb0" stroke="#fff" stroke-width="0.35" stroke-opacity="0.7"/>
<circle cx="49.0" cy="829.0" r="1.45" fill="#1f6eb0" stroke="#fff" stroke-width="0.35" stroke-opacity="0.7"/>
<circle cx="55.6" cy="828.6" r="1.45" fill="#1f6eb0" stroke="#fff" stroke-width="0.35" stroke-opacity="0.7"/>
<circle cx="60.9" cy="830.1" r="1.45" fill="#1f6eb0" stroke="#fff" stroke-width="0.35" stroke-opacity="0.7"/>
<circle cx="66.4" cy="829.0" r="1.45" fill="#1f6eb0" stroke="#fff" stroke-width="0.35" stroke-opacity="0.7"/>
<circle cx="79.7" cy="830.1" r="1.45" fill="#1f6eb0" stroke="#fff" stroke-width="0.35" stroke-opacity="0.7"/>
<circle cx="84.2" cy="829.5" r="1.45" fill="#1f6eb0" stroke="#fff" stroke-width="0.35" stroke-opacity="0.7"/>
<circle cx="47.0" cy="832.7" r="1.45" fill="#1f6eb0" stroke="#fff" stroke-width="0.35" stroke-opacity="0.7"/>
<circle cx="50.7" cy="833.5" r="1.45" fill="#1f6eb0" stroke="#fff" stroke-width="0.35" stroke-opacity="0.7"/>
<circle cx="53.5" cy="833.5" r="1.45" fill="#1f6eb0" stroke="#fff" stroke-width="0.35" stroke-opacity="0.7"/>
<circle cx="57.6" cy="834.2" r="1.45" fill="#1f6eb0" stroke="#fff" stroke-width="0.35" stroke-opacity="0.7"/>
<circle cx="61.3" cy="833.5" r="1.45" fill="#1f6eb0" stroke="#fff" stroke-width="0.35" stroke-opacity="0.7"/>
<circle cx="65.0" cy="833.5" r="1.45" fill="#1f6eb0" stroke="#fff" stroke-width="0.35" stroke-opacity="0.7"/>
<circle cx="68.5" cy="834.2" r="1.45" fill="#1f6eb0" stroke="#fff" stroke-width="0.35" stroke-opacity="0.7"/>
<circle cx="75.6" cy="834.2" r="1.45" fill="#1f6eb0" stroke="#fff" stroke-width="0.35" stroke-opacity="0.7"/>
<circle cx="78.1" cy="833.1" r="1.45" fill="#1f6eb0" stroke="#fff" stroke-width="0.35" stroke-opacity="0.7"/>
<circle cx="85.8" cy="833.5" r="1.45" fill="#1f6eb0" stroke="#fff" stroke-width="0.35" stroke-opacity="0.7"/>
<circle cx="126.3" cy="833.5" r="1.45" fill="#1f6eb0" stroke="#fff" stroke-width="0.35" stroke-opacity="0.7"/>
<circle cx="133.8" cy="722.1" r="2.25" fill="#b4161b" stroke="#fff" stroke-width="0.3" stroke-opacity="0.6"/>
<circle cx="140.9" cy="726.8" r="2.25" fill="#b4161b" stroke="#fff" stroke-width="0.3" stroke-opacity="0.6"/>
<circle cx="109.6" cy="743.1" r="2.25" fill="#b4161b" stroke="#fff" stroke-width="0.3" stroke-opacity="0.6"/>
<circle cx="98.8" cy="752.3" r="2.25" fill="#b4161b" stroke="#fff" stroke-width="0.3" stroke-opacity="0.6"/>
<circle cx="172.0" cy="744.8" r="2.25" fill="#b4161b" stroke="#fff" stroke-width="0.3" stroke-opacity="0.6"/>
<circle cx="177.1" cy="740.7" r="2.25" fill="#b4161b" stroke="#fff" stroke-width="0.3" stroke-opacity="0.6"/>
<circle cx="127.0" cy="760.5" r="2.25" fill="#b4161b" stroke="#fff" stroke-width="0.3" stroke-opacity="0.6"/>
<circle cx="177.5" cy="757.0" r="2.25" fill="#b4161b" stroke="#fff" stroke-width="0.3" stroke-opacity="0.6"/>
<circle cx="213.4" cy="752.0" r="2.25" fill="#b4161b" stroke="#fff" stroke-width="0.3" stroke-opacity="0.6"/>
<circle cx="220.4" cy="775.6" r="2.25" fill="#b4161b" stroke="#fff" stroke-width="0.3" stroke-opacity="0.6"/>
<circle cx="297.7" cy="748.0" r="2.25" fill="#b4161b" stroke="#fff" stroke-width="0.3" stroke-opacity="0.6"/>
<path d="M91.3,627.4 V844.1" stroke="#ff2b2b" stroke-width="1" stroke-dasharray="2.2 1.1"/>
<path d="M33.6,779.2 H324.3" stroke="#ff2b2b" stroke-width="1" stroke-dasharray="2.2 1.1"/>
<path d="M139.3,704.7 L135.2,718.6" stroke="#333" stroke-width="0.7"/>
<text x="122.5" y="701.5" font-size="8.2" text-anchor="start" textLength="25.4" lengthAdjust="spacingAndGlyphs">PCDH8</text>
<path d="M153.6,714.5 L143.8,723.7" stroke="#333" stroke-width="0.7"/>
<text x="145.8" y="710.9" font-size="8.2" text-anchor="start" textLength="23.1" lengthAdjust="spacingAndGlyphs">KLKB1</text>
<path d="M109.6,726.8 L109.6,741.1" stroke="#333" stroke-width="0.7"/>
<text x="98.0" y="725.2" font-size="8.2" text-anchor="start" textLength="18.2" lengthAdjust="spacingAndGlyphs">CSF3</text>
<path d="M96.4,736 L98.4,749.3" stroke="#333" stroke-width="0.7"/>
<text x="86.7" y="734.8" font-size="8.2" text-anchor="start" textLength="19.3" lengthAdjust="spacingAndGlyphs">RFC4</text>
<path d="M166.9,728.8 L169.9,742.1" stroke="#333" stroke-width="0.7"/>
<text x="148.9" y="728.1" font-size="8.2" text-anchor="start" textLength="31.2" lengthAdjust="spacingAndGlyphs">DDX39B</text>
<path d="M191.4,730.9 L180.1,738.6" stroke="#333" stroke-width="0.7"/>
<text x="186.9" y="728.3" font-size="8.2" text-anchor="start" textLength="29.4" lengthAdjust="spacingAndGlyphs">HSPA1B</text>
<path d="M143.4,755 L130.1,759.5" stroke="#333" stroke-width="0.7"/>
<text x="144.0" y="755.6" font-size="8.2" text-anchor="start" textLength="18.8" lengthAdjust="spacingAndGlyphs">ITIH3</text>
<path d="M165.8,769.7 L175.6,759.9" stroke="#333" stroke-width="0.7"/>
<text x="144.0" y="776.7" font-size="8.2" text-anchor="start" textLength="28.4" lengthAdjust="spacingAndGlyphs">IZUMO1</text>
<path d="M226.6,741.5 L216.3,749.7" stroke="#333" stroke-width="0.7"/>
<text x="219.4" y="737.0" font-size="8.2" text-anchor="start" textLength="29.2" lengthAdjust="spacingAndGlyphs">HSPA1A</text>
<path d="M228,759.3 L221.9,771.9" stroke="#333" stroke-width="0.7"/>
<text x="221.0" y="757.7" font-size="8.2" text-anchor="start" textLength="22.3" lengthAdjust="spacingAndGlyphs">FABP3</text>
<path d="M294,730.7 L297.1,743.9" stroke="#333" stroke-width="0.7"/>
<text x="271.9" y="726.8" font-size="8.2" text-anchor="start" textLength="35.8" lengthAdjust="spacingAndGlyphs">GABARAP</text>
<text x="355.3" y="606.4" font-size="13.5" text-anchor="start" font-weight="bold" fill="#000">f</text>
<text x="545.2" y="613.9" font-size="10.5" text-anchor="middle" textLength="101.9" lengthAdjust="spacing">Incident heart failure</text>
<text x="366.4" y="735.5" font-size="8.8" text-anchor="middle" font-weight="bold" textLength="197.9" lengthAdjust="spacing" transform="rotate(-90 366.4 735.5)" fill="#000">Eigenprotein associations (-log10 p-value)</text>
<text x="539.5" y="867.6" font-size="8.8" text-anchor="middle" font-weight="bold" textLength="220.9" lengthAdjust="spacing" fill="#000">Network regulator associations (-log10 p-value)</text>
<path d="M392.4,624.7 V842.5 H685" stroke="#555555" stroke-width="1" fill="none"/>
<path d="M390.09999999999997,833.2 H392.4" stroke="#999" stroke-width="0.7"/>
<text x="387.3" y="836.6" font-size="8.6" text-anchor="end" fill="#1e1e1e">0</text>
<path d="M390.09999999999997,790.4 H392.4" stroke="#999" stroke-width="0.7"/>
<text x="387.3" y="793.8" font-size="8.6" text-anchor="end" fill="#1e1e1e">5</text>
<path d="M390.09999999999997,748.0 H392.4" stroke="#999" stroke-width="0.7"/>
<text x="387.3" y="751.4" font-size="8.6" text-anchor="end" fill="#1e1e1e">10</text>
<path d="M390.09999999999997,705.7 H392.4" stroke="#999" stroke-width="0.7"/>
<text x="387.3" y="709.1" font-size="8.6" text-anchor="end" fill="#1e1e1e">15</text>
<path d="M390.09999999999997,663.3 H392.4" stroke="#999" stroke-width="0.7"/>
<text x="387.3" y="666.7" font-size="8.6" text-anchor="end" fill="#1e1e1e">20</text>
<path d="M405.5,842.5 V844.8" stroke="#999" stroke-width="0.7"/>
<text x="405.5" y="853.1" font-size="8.6" text-anchor="middle" fill="#1e1e1e">0</text>
<path d="M464.3,842.5 V844.8" stroke="#999" stroke-width="0.7"/>
<text x="464.3" y="853.1" font-size="8.6" text-anchor="middle" fill="#1e1e1e">5</text>
<path d="M523.2,842.5 V844.8" stroke="#999" stroke-width="0.7"/>
<text x="523.2" y="853.1" font-size="8.6" text-anchor="middle" fill="#1e1e1e">10</text>
<path d="M582.0,842.5 V844.8" stroke="#999" stroke-width="0.7"/>
<text x="582.0" y="853.1" font-size="8.6" text-anchor="middle" fill="#1e1e1e">15</text>
<path d="M640.8,842.5 V844.8" stroke="#999" stroke-width="0.7"/>
<text x="640.8" y="853.1" font-size="8.6" text-anchor="middle" fill="#1e1e1e">20</text>
<circle cx="406.3" cy="757.4" r="1.45" fill="#1f6eb0" stroke="#fff" stroke-width="0.35" stroke-opacity="0.7"/>
<circle cx="415.5" cy="767.3" r="1.45" fill="#1f6eb0" stroke="#fff" stroke-width="0.35" stroke-opacity="0.7"/>
<circle cx="418.6" cy="769.3" r="1.45" fill="#1f6eb0" stroke="#fff" stroke-width="0.35" stroke-opacity="0.7"/>
<circle cx="425.8" cy="764.6" r="1.45" fill="#1f6eb0" stroke="#fff" stroke-width="0.35" stroke-opacity="0.7"/>
<circle cx="427.8" cy="766.6" r="1.45" fill="#1f6eb0" stroke="#fff" stroke-width="0.35" stroke-opacity="0.7"/>
<circle cx="409.4" cy="779.5" r="1.45" fill="#1f6eb0" stroke="#fff" stroke-width="0.35" stroke-opacity="0.7"/>
<circle cx="418.6" cy="779.5" r="1.45" fill="#1f6eb0" stroke="#fff" stroke-width="0.35" stroke-opacity="0.7"/>
<circle cx="405.9" cy="784.0" r="1.45" fill="#1f6eb0" stroke="#fff" stroke-width="0.35" stroke-opacity="0.7"/>
<circle cx="410.0" cy="785.6" r="1.45" fill="#1f6eb0" stroke="#fff" stroke-width="0.35" stroke-opacity="0.7"/>
<circle cx="418.2" cy="784.4" r="1.45" fill="#1f6eb0" stroke="#fff" stroke-width="0.35" stroke-opacity="0.7"/>
<circle cx="425.2" cy="788.1" r="1.45" fill="#1f6eb0" stroke="#fff" stroke-width="0.35" stroke-opacity="0.7"/>
<circle cx="407.4" cy="791.8" r="1.45" fill="#1f6eb0" stroke="#fff" stroke-width="0.35" stroke-opacity="0.7"/>
<circle cx="417.6" cy="791.0" r="1.45" fill="#1f6eb0" stroke="#fff" stroke-width="0.35" stroke-opacity="0.7"/>
<circle cx="421.1" cy="791.0" r="1.45" fill="#1f6eb0" stroke="#fff" stroke-width="0.35" stroke-opacity="0.7"/>
<circle cx="407.4" cy="797.9" r="1.45" fill="#1f6eb0" stroke="#fff" stroke-width="0.35" stroke-opacity="0.7"/>
<circle cx="405.9" cy="800.4" r="1.45" fill="#1f6eb0" stroke="#fff" stroke-width="0.35" stroke-opacity="0.7"/>
<circle cx="414.5" cy="798.7" r="1.45" fill="#1f6eb0" stroke="#fff" stroke-width="0.35" stroke-opacity="0.7"/>
<circle cx="418.6" cy="798.3" r="1.45" fill="#1f6eb0" stroke="#fff" stroke-width="0.35" stroke-opacity="0.7"/>
<circle cx="421.1" cy="797.3" r="1.45" fill="#1f6eb0" stroke="#fff" stroke-width="0.35" stroke-opacity="0.7"/>
<circle cx="421.7" cy="800.8" r="1.45" fill="#1f6eb0" stroke="#fff" stroke-width="0.35" stroke-opacity="0.7"/>
<circle cx="410.4" cy="801.4" r="1.45" fill="#1f6eb0" stroke="#fff" stroke-width="0.35" stroke-opacity="0.7"/>
<circle cx="406.0" cy="784.1" r="1.45" fill="#1f6eb0" stroke="#fff" stroke-width="0.35" stroke-opacity="0.7"/>
<circle cx="409.3" cy="785.8" r="1.45" fill="#1f6eb0" stroke="#fff" stroke-width="0.35" stroke-opacity="0.7"/>
<circle cx="418.5" cy="782.2" r="1.45" fill="#1f6eb0" stroke="#fff" stroke-width="0.35" stroke-opacity="0.7"/>
<circle cx="425.8" cy="787.0" r="1.45" fill="#1f6eb0" stroke="#fff" stroke-width="0.35" stroke-opacity="0.7"/>
<circle cx="407.2" cy="792.0" r="1.45" fill="#1f6eb0" stroke="#fff" stroke-width="0.35" stroke-opacity="0.7"/>
<circle cx="417.7" cy="791.0" r="1.45" fill="#1f6eb0" stroke="#fff" stroke-width="0.35" stroke-opacity="0.7"/>
<circle cx="420.7" cy="791.0" r="1.45" fill="#1f6eb0" stroke="#fff" stroke-width="0.35" stroke-opacity="0.7"/>
<circle cx="405.3" cy="799.0" r="1.45" fill="#1f6eb0" stroke="#fff" stroke-width="0.35" stroke-opacity="0.7"/>
<circle cx="407.5" cy="798.2" r="1.45" fill="#1f6eb0" stroke="#fff" stroke-width="0.35" stroke-opacity="0.7"/>
<circle cx="410.4" cy="801.2" r="1.45" fill="#1f6eb0" stroke="#fff" stroke-width="0.35" stroke-opacity="0.7"/>
<circle cx="414.5" cy="798.2" r="1.45" fill="#1f6eb0" stroke="#fff" stroke-width="0.35" stroke-opacity="0.7"/>
<circle cx="418.5" cy="799.0" r="1.45" fill="#1f6eb0" stroke="#fff" stroke-width="0.35" stroke-opacity="0.7"/>
<circle cx="420.7" cy="797.5" r="1.45" fill="#1f6eb0" stroke="#fff" stroke-width="0.35" stroke-opacity="0.7"/>
<circle cx="421.4" cy="800.4" r="1.45" fill="#1f6eb0" stroke="#fff" stroke-width="0.35" stroke-opacity="0.7"/>
<circle cx="412.6" cy="803.1" r="1.45" fill="#1f6eb0" stroke="#fff" stroke-width="0.35" stroke-opacity="0.7"/>
<circle cx="409.7" cy="806.6" r="1.45" fill="#1f6eb0" stroke="#fff" stroke-width="0.35" stroke-opacity="0.7"/>
<circle cx="415.5" cy="808.5" r="1.45" fill="#1f6eb0" stroke="#fff" stroke-width="0.35" stroke-opacity="0.7"/>
<circle cx="421.8" cy="806.0" r="1.45" fill="#1f6eb0" stroke="#fff" stroke-width="0.35" stroke-opacity="0.7"/>
<circle cx="425.0" cy="808.5" r="1.45" fill="#1f6eb0" stroke="#fff" stroke-width="0.35" stroke-opacity="0.7"/>
<circle cx="428.7" cy="805.5" r="1.45" fill="#1f6eb0" stroke="#fff" stroke-width="0.35" stroke-opacity="0.7"/>
<circle cx="430.6" cy="802.6" r="1.45" fill="#1f6eb0" stroke="#fff" stroke-width="0.35" stroke-opacity="0.7"/>
<circle cx="438.2" cy="804.1" r="1.45" fill="#1f6eb0" stroke="#fff" stroke-width="0.35" stroke-opacity="0.7"/>
<circle cx="438.9" cy="807.0" r="1.45" fill="#1f6eb0" stroke="#fff" stroke-width="0.35" stroke-opacity="0.7"/>
<circle cx="438.9" cy="809.2" r="1.45" fill="#1f6eb0" stroke="#fff" stroke-width="0.35" stroke-opacity="0.7"/>
<circle cx="444.3" cy="804.1" r="1.45" fill="#1f6eb0" stroke="#fff" stroke-width="0.35" stroke-opacity="0.7"/>
<circle cx="448.1" cy="803.1" r="1.45" fill="#1f6eb0" stroke="#fff" stroke-width="0.35" stroke-opacity="0.7"/>
<circle cx="480.2" cy="803.4" r="1.45" fill="#1f6eb0" stroke="#fff" stroke-width="0.35" stroke-opacity="0.7"/>
<circle cx="406.4" cy="809.9" r="1.45" fill="#1f6eb0" stroke="#fff" stroke-width="0.35" stroke-opacity="0.7"/>
<circle cx="407.5" cy="811.8" r="1.45" fill="#1f6eb0" stroke="#fff" stroke-width="0.35" stroke-opacity="0.7"/>
<circle cx="410.1" cy="811.4" r="1.45" fill="#1f6eb0" stroke="#fff" stroke-width="0.35" stroke-opacity="0.7"/>
<circle cx="405.3" cy="815.0" r="1.45" fill="#1f6eb0" stroke="#fff" stroke-width="0.35" stroke-opacity="0.7"/>
<circle cx="408.7" cy="814.3" r="1.45" fill="#1f6eb0" stroke="#fff" stroke-width="0.35" stroke-opacity="0.7"/>
<circle cx="411.2" cy="816.5" r="1.45" fill="#1f6eb0" stroke="#fff" stroke-width="0.35" stroke-opacity="0.7"/>
<circle cx="414.1" cy="815.0" r="1.45" fill="#1f6eb0" stroke="#fff" stroke-width="0.35" stroke-opacity="0.7"/>
<circle cx="417.7" cy="811.4" r="1.45" fill="#1f6eb0" stroke="#fff" stroke-width="0.35" stroke-opacity="0.7"/>
<circle cx="421.4" cy="810.7" r="1.45" fill="#1f6eb0" stroke="#fff" stroke-width="0.35" stroke-opacity="0.7"/>
<circle cx="417.7" cy="815.0" r="1.45" fill="#1f6eb0" stroke="#fff" stroke-width="0.35" stroke-opacity="0.7"/>
<circle cx="425.8" cy="809.2" r="1.45" fill="#1f6eb0" stroke="#fff" stroke-width="0.35" stroke-opacity="0.7"/>
<circle cx="431.2" cy="809.9" r="1.45" fill="#1f6eb0" stroke="#fff" stroke-width="0.35" stroke-opacity="0.7"/>
<circle cx="430.9" cy="812.8" r="1.45" fill="#1f6eb0" stroke="#fff" stroke-width="0.35" stroke-opacity="0.7"/>
<circle cx="431.2" cy="815.3" r="1.45" fill="#1f6eb0" stroke="#fff" stroke-width="0.35" stroke-opacity="0.7"/>
<circle cx="441.1" cy="815.3" r="1.45" fill="#1f6eb0" stroke="#fff" stroke-width="0.35" stroke-opacity="0.7"/>
<circle cx="452.0" cy="809.9" r="1.45" fill="#1f6eb0" stroke="#fff" stroke-width="0.35" stroke-opacity="0.7"/>
<circle cx="454.2" cy="810.7" r="1.45" fill="#1f6eb0" stroke="#fff" stroke-width="0.35" stroke-opacity="0.7"/>
<circle cx="456.4" cy="814.3" r="1.45" fill="#1f6eb0" stroke="#fff" stroke-width="0.35" stroke-opacity="0.7"/>
<circle cx="460.8" cy="811.8" r="1.45" fill="#1f6eb0" stroke="#fff" stroke-width="0.35" stroke-opacity="0.7"/>
<circle cx="474.4" cy="809.9" r="1.45" fill="#1f6eb0" stroke="#fff" stroke-width="0.35" stroke-opacity="0.7"/>
<circle cx="484.6" cy="816.5" r="1.45" fill="#1f6eb0" stroke="#fff" stroke-width="0.35" stroke-opacity="0.7"/>
<circle cx="449.9" cy="819.4" r="1.45" fill="#1f6eb0" stroke="#fff" stroke-width="0.35" stroke-opacity="0.7"/>
<circle cx="458.3" cy="819.1" r="1.45" fill="#1f6eb0" stroke="#fff" stroke-width="0.35" stroke-opacity="0.7"/>
<circle cx="444.3" cy="820.9" r="1.45" fill="#1f6eb0" stroke="#fff" stroke-width="0.35" stroke-opacity="0.7"/>
<circle cx="443.7" cy="823.1" r="1.45" fill="#1f6eb0" stroke="#fff" stroke-width="0.35" stroke-opacity="0.7"/>
<circle cx="443.7" cy="824.5" r="1.45" fill="#1f6eb0" stroke="#fff" stroke-width="0.35" stroke-opacity="0.7"/>
<circle cx="428.2" cy="820.1" r="1.45" fill="#1f6eb0" stroke="#fff" stroke-width="0.35" stroke-opacity="0.7"/>
<circle cx="425.0" cy="821.6" r="1.45" fill="#1f6eb0" stroke="#fff" stroke-width="0.35" stroke-opacity="0.7"/>
<circle cx="405.3" cy="820.9" r="1.45" fill="#1f6eb0" stroke="#fff" stroke-width="0.35" stroke-opacity="0.7"/>
<circle cx="408.2" cy="822.3" r="1.45" fill="#1f6eb0" stroke="#fff" stroke-width="0.35" stroke-opacity="0.7"/>
<circle cx="412.6" cy="821.2" r="1.45" fill="#1f6eb0" stroke="#fff" stroke-width="0.35" stroke-opacity="0.7"/>
<circle cx="416.3" cy="818.7" r="1.45" fill="#1f6eb0" stroke="#fff" stroke-width="0.35" stroke-opacity="0.7"/>
<circle cx="419.2" cy="818.0" r="1.45" fill="#1f6eb0" stroke="#fff" stroke-width="0.35" stroke-opacity="0.7"/>
<circle cx="422.1" cy="818.0" r="1.45" fill="#1f6eb0" stroke="#fff" stroke-width="0.35" stroke-opacity="0.7"/>
<circle cx="406.1" cy="823.8" r="1.45" fill="#1f6eb0" stroke="#fff" stroke-width="0.35" stroke-opacity="0.7"/>
<circle cx="409.0" cy="824.5" r="1.45" fill="#1f6eb0" stroke="#fff" stroke-width="0.35" stroke-opacity="0.7"/>
<circle cx="411.9" cy="826.7" r="1.45" fill="#1f6eb0" stroke="#fff" stroke-width="0.35" stroke-opacity="0.7"/>
<circle cx="416.3" cy="823.8" r="1.45" fill="#1f6eb0" stroke="#fff" stroke-width="0.35" stroke-opacity="0.7"/>
<circle cx="418.5" cy="824.5" r="1.45" fill="#1f6eb0" stroke="#fff" stroke-width="0.35" stroke-opacity="0.7"/>
<circle cx="406.1" cy="826.7" r="1.45" fill="#1f6eb0" stroke="#fff" stroke-width="0.35" stroke-opacity="0.7"/>
<circle cx="408.2" cy="827.4" r="1.45" fill="#1f6eb0" stroke="#fff" stroke-width="0.35" stroke-opacity="0.7"/>
<circle cx="413.4" cy="828.2" r="1.45" fill="#1f6eb0" stroke="#fff" stroke-width="0.35" stroke-opacity="0.7"/>
<circle cx="417.0" cy="827.0" r="1.45" fill="#1f6eb0" stroke="#fff" stroke-width="0.35" stroke-opacity="0.7"/>
<circle cx="425.0" cy="826.7" r="1.45" fill="#1f6eb0" stroke="#fff" stroke-width="0.35" stroke-opacity="0.7"/>
<circle cx="432.3" cy="826.7" r="1.45" fill="#1f6eb0" stroke="#fff" stroke-width="0.35" stroke-opacity="0.7"/>
<circle cx="434.5" cy="827.4" r="1.45" fill="#1f6eb0" stroke="#fff" stroke-width="0.35" stroke-opacity="0.7"/>
<circle cx="437.4" cy="826.4" r="1.45" fill="#1f6eb0" stroke="#fff" stroke-width="0.35" stroke-opacity="0.7"/>
<circle cx="433.1" cy="830.4" r="1.45" fill="#1f6eb0" stroke="#fff" stroke-width="0.35" stroke-opacity="0.7"/>
<circle cx="428.7" cy="829.6" r="1.45" fill="#1f6eb0" stroke="#fff" stroke-width="0.35" stroke-opacity="0.7"/>
<circle cx="406.1" cy="830.4" r="1.45" fill="#1f6eb0" stroke="#fff" stroke-width="0.35" stroke-opacity="0.7"/>
<circle cx="408.2" cy="832.3" r="1.45" fill="#1f6eb0" stroke="#fff" stroke-width="0.35" stroke-opacity="0.7"/>
<circle cx="416.0" cy="830.4" r="1.45" fill="#1f6eb0" stroke="#fff" stroke-width="0.35" stroke-opacity="0.7"/>
<circle cx="418.5" cy="831.8" r="1.45" fill="#1f6eb0" stroke="#fff" stroke-width="0.35" stroke-opacity="0.7"/>
<circle cx="421.4" cy="830.4" r="1.45" fill="#1f6eb0" stroke="#fff" stroke-width="0.35" stroke-opacity="0.7"/>
<circle cx="428.0" cy="831.8" r="1.45" fill="#1f6eb0" stroke="#fff" stroke-width="0.35" stroke-opacity="0.7"/>
<circle cx="465.6" cy="828.9" r="1.45" fill="#1f6eb0" stroke="#fff" stroke-width="0.35" stroke-opacity="0.7"/>
<circle cx="467.4" cy="831.8" r="1.45" fill="#1f6eb0" stroke="#fff" stroke-width="0.35" stroke-opacity="0.7"/>
<circle cx="474.3" cy="809.7" r="1.45" fill="#1f6eb0" stroke="#fff" stroke-width="0.35" stroke-opacity="0.7"/>
<circle cx="484.5" cy="816.5" r="1.45" fill="#1f6eb0" stroke="#fff" stroke-width="0.35" stroke-opacity="0.7"/>
<circle cx="507.7" cy="811.2" r="1.45" fill="#1f6eb0" stroke="#fff" stroke-width="0.35" stroke-opacity="0.7"/>
<circle cx="494.0" cy="831.0" r="1.45" fill="#1f6eb0" stroke="#fff" stroke-width="0.35" stroke-opacity="0.7"/>
<circle cx="542.3" cy="816.8" r="1.45" fill="#1f6eb0" stroke="#fff" stroke-width="0.35" stroke-opacity="0.7"/>
<circle cx="507.6" cy="811.0" r="1.45" fill="#1f6eb0" stroke="#fff" stroke-width="0.35" stroke-opacity="0.7"/>
<circle cx="448.3" cy="633.9" r="2.25" fill="#b4161b" stroke="#fff" stroke-width="0.3" stroke-opacity="0.6"/>
<circle cx="431.3" cy="723.7" r="2.25" fill="#b4161b" stroke="#fff" stroke-width="0.3" stroke-opacity="0.6"/>
<circle cx="458.5" cy="726.2" r="2.25" fill="#b4161b" stroke="#fff" stroke-width="0.3" stroke-opacity="0.6"/>
<circle cx="428.2" cy="773.4" r="2.25" fill="#b4161b" stroke="#fff" stroke-width="0.3" stroke-opacity="0.6"/>
<circle cx="443.7" cy="764.0" r="2.25" fill="#b4161b" stroke="#fff" stroke-width="0.3" stroke-opacity="0.6"/>
<circle cx="521.2" cy="760.7" r="2.25" fill="#b4161b" stroke="#fff" stroke-width="0.3" stroke-opacity="0.6"/>
<circle cx="523.8" cy="736.4" r="2.25" fill="#b4161b" stroke="#fff" stroke-width="0.3" stroke-opacity="0.6"/>
<circle cx="539.2" cy="749.4" r="2.25" fill="#b4161b" stroke="#fff" stroke-width="0.3" stroke-opacity="0.6"/>
<circle cx="535.7" cy="773.0" r="2.25" fill="#b4161b" stroke="#fff" stroke-width="0.3" stroke-opacity="0.6"/>
<circle cx="602.1" cy="763.7" r="2.25" fill="#b4161b" stroke="#fff" stroke-width="0.3" stroke-opacity="0.6"/>
<circle cx="670.9" cy="743.2" r="2.25" fill="#b4161b" stroke="#fff" stroke-width="0.3" stroke-opacity="0.6"/>
<circle cx="621.0" cy="795.9" r="2.25" fill="#b4161b" stroke="#fff" stroke-width="0.3" stroke-opacity="0.6"/>
<circle cx="432.5" cy="771.1" r="2.25" fill="#b4161b" stroke="#fff" stroke-width="0.3" stroke-opacity="0.6"/>
<circle cx="437.6" cy="779.5" r="2.25" fill="#b4161b" stroke="#fff" stroke-width="0.3" stroke-opacity="0.6"/>
<circle cx="444.8" cy="784.0" r="2.25" fill="#b4161b" stroke="#fff" stroke-width="0.3" stroke-opacity="0.6"/>
<circle cx="431.9" cy="790.8" r="2.25" fill="#b4161b" stroke="#fff" stroke-width="0.3" stroke-opacity="0.6"/>
<circle cx="436.4" cy="789.7" r="2.25" fill="#b4161b" stroke="#fff" stroke-width="0.3" stroke-opacity="0.6"/>
<circle cx="439.0" cy="792.2" r="2.25" fill="#b4161b" stroke="#fff" stroke-width="0.3" stroke-opacity="0.6"/>
<circle cx="429.9" cy="795.3" r="2.25" fill="#b4161b" stroke="#fff" stroke-width="0.3" stroke-opacity="0.6"/>
<circle cx="433.9" cy="794.2" r="2.25" fill="#b4161b" stroke="#fff" stroke-width="0.3" stroke-opacity="0.6"/>
<circle cx="436.6" cy="796.3" r="2.25" fill="#b4161b" stroke="#fff" stroke-width="0.3" stroke-opacity="0.6"/>
<circle cx="441.1" cy="795.3" r="2.25" fill="#b4161b" stroke="#fff" stroke-width="0.3" stroke-opacity="0.6"/>
<circle cx="445.2" cy="796.3" r="2.25" fill="#b4161b" stroke="#fff" stroke-width="0.3" stroke-opacity="0.6"/>
<circle cx="429.9" cy="799.3" r="2.25" fill="#b4161b" stroke="#fff" stroke-width="0.3" stroke-opacity="0.6"/>
<circle cx="434.6" cy="798.3" r="2.25" fill="#b4161b" stroke="#fff" stroke-width="0.3" stroke-opacity="0.6"/>
<circle cx="440.1" cy="798.3" r="2.25" fill="#b4161b" stroke="#fff" stroke-width="0.3" stroke-opacity="0.6"/>
<circle cx="444.2" cy="798.7" r="2.25" fill="#b4161b" stroke="#fff" stroke-width="0.3" stroke-opacity="0.6"/>
<circle cx="448.2" cy="800.0" r="2.25" fill="#b4161b" stroke="#fff" stroke-width="0.3" stroke-opacity="0.6"/>
<circle cx="455.0" cy="796.3" r="2.25" fill="#b4161b" stroke="#fff" stroke-width="0.3" stroke-opacity="0.6"/>
<circle cx="458.5" cy="798.3" r="2.25" fill="#b4161b" stroke="#fff" stroke-width="0.3" stroke-opacity="0.6"/>
<circle cx="461.5" cy="799.3" r="2.25" fill="#b4161b" stroke="#fff" stroke-width="0.3" stroke-opacity="0.6"/>
<circle cx="463.6" cy="796.3" r="2.25" fill="#b4161b" stroke="#fff" stroke-width="0.3" stroke-opacity="0.6"/>
<circle cx="467.3" cy="797.9" r="2.25" fill="#b4161b" stroke="#fff" stroke-width="0.3" stroke-opacity="0.6"/>
<circle cx="460.5" cy="790.1" r="2.25" fill="#b4161b" stroke="#fff" stroke-width="0.3" stroke-opacity="0.6"/>
<circle cx="462.6" cy="785.0" r="2.25" fill="#b4161b" stroke="#fff" stroke-width="0.3" stroke-opacity="0.6"/>
<circle cx="465.6" cy="783.0" r="2.25" fill="#b4161b" stroke="#fff" stroke-width="0.3" stroke-opacity="0.6"/>
<circle cx="468.1" cy="783.0" r="2.25" fill="#b4161b" stroke="#fff" stroke-width="0.3" stroke-opacity="0.6"/>
<circle cx="479.9" cy="790.1" r="2.25" fill="#b4161b" stroke="#fff" stroke-width="0.3" stroke-opacity="0.6"/>
<circle cx="481.6" cy="788.1" r="2.25" fill="#b4161b" stroke="#fff" stroke-width="0.3" stroke-opacity="0.6"/>
<circle cx="484.0" cy="787.1" r="2.25" fill="#b4161b" stroke="#fff" stroke-width="0.3" stroke-opacity="0.6"/>
<circle cx="486.1" cy="785.6" r="2.25" fill="#b4161b" stroke="#fff" stroke-width="0.3" stroke-opacity="0.6"/>
<circle cx="490.1" cy="796.3" r="2.25" fill="#b4161b" stroke="#fff" stroke-width="0.3" stroke-opacity="0.6"/>
<circle cx="432.3" cy="791.0" r="2.25" fill="#b4161b" stroke="#fff" stroke-width="0.3" stroke-opacity="0.6"/>
<circle cx="436.4" cy="789.9" r="2.25" fill="#b4161b" stroke="#fff" stroke-width="0.3" stroke-opacity="0.6"/>
<circle cx="435.3" cy="793.9" r="2.25" fill="#b4161b" stroke="#fff" stroke-width="0.3" stroke-opacity="0.6"/>
<circle cx="433.1" cy="795.3" r="2.25" fill="#b4161b" stroke="#fff" stroke-width="0.3" stroke-opacity="0.6"/>
<circle cx="438.9" cy="793.9" r="2.25" fill="#b4161b" stroke="#fff" stroke-width="0.3" stroke-opacity="0.6"/>
<circle cx="441.4" cy="795.3" r="2.25" fill="#b4161b" stroke="#fff" stroke-width="0.3" stroke-opacity="0.6"/>
<circle cx="430.1" cy="799.0" r="2.25" fill="#b4161b" stroke="#fff" stroke-width="0.3" stroke-opacity="0.6"/>
<circle cx="434.5" cy="799.0" r="2.25" fill="#b4161b" stroke="#fff" stroke-width="0.3" stroke-opacity="0.6"/>
<circle cx="439.6" cy="797.5" r="2.25" fill="#b4161b" stroke="#fff" stroke-width="0.3" stroke-opacity="0.6"/>
<circle cx="443.7" cy="798.2" r="2.25" fill="#b4161b" stroke="#fff" stroke-width="0.3" stroke-opacity="0.6"/>
<circle cx="445.5" cy="796.1" r="2.25" fill="#b4161b" stroke="#fff" stroke-width="0.3" stroke-opacity="0.6"/>
<circle cx="448.4" cy="799.7" r="2.25" fill="#b4161b" stroke="#fff" stroke-width="0.3" stroke-opacity="0.6"/>
<circle cx="444.7" cy="784.1" r="2.25" fill="#b4161b" stroke="#fff" stroke-width="0.3" stroke-opacity="0.6"/>
<circle cx="437.4" cy="780.0" r="2.25" fill="#b4161b" stroke="#fff" stroke-width="0.3" stroke-opacity="0.6"/>
<circle cx="454.2" cy="796.8" r="2.25" fill="#b4161b" stroke="#fff" stroke-width="0.3" stroke-opacity="0.6"/>
<circle cx="457.9" cy="799.0" r="2.25" fill="#b4161b" stroke="#fff" stroke-width="0.3" stroke-opacity="0.6"/>
<circle cx="461.5" cy="799.0" r="2.25" fill="#b4161b" stroke="#fff" stroke-width="0.3" stroke-opacity="0.6"/>
<circle cx="463.0" cy="795.3" r="2.25" fill="#b4161b" stroke="#fff" stroke-width="0.3" stroke-opacity="0.6"/>
<circle cx="465.2" cy="796.4" r="2.25" fill="#b4161b" stroke="#fff" stroke-width="0.3" stroke-opacity="0.6"/>
<circle cx="467.4" cy="797.8" r="2.25" fill="#b4161b" stroke="#fff" stroke-width="0.3" stroke-opacity="0.6"/>
<circle cx="460.8" cy="791.0" r="2.25" fill="#b4161b" stroke="#fff" stroke-width="0.3" stroke-opacity="0.6"/>
<circle cx="462.7" cy="788.0" r="2.25" fill="#b4161b" stroke="#fff" stroke-width="0.3" stroke-opacity="0.6"/>
<circle cx="462.7" cy="784.4" r="2.25" fill="#b4161b" stroke="#fff" stroke-width="0.3" stroke-opacity="0.6"/>
<circle cx="465.2" cy="782.6" r="2.25" fill="#b4161b" stroke="#fff" stroke-width="0.3" stroke-opacity="0.6"/>
<circle cx="468.1" cy="782.6" r="2.25" fill="#b4161b" stroke="#fff" stroke-width="0.3" stroke-opacity="0.6"/>
<circle cx="480.2" cy="790.5" r="2.25" fill="#b4161b" stroke="#fff" stroke-width="0.3" stroke-opacity="0.6"/>
<circle cx="482.0" cy="788.5" r="2.25" fill="#b4161b" stroke="#fff" stroke-width="0.3" stroke-opacity="0.6"/>
<circle cx="486.1" cy="785.8" r="2.25" fill="#b4161b" stroke="#fff" stroke-width="0.3" stroke-opacity="0.6"/>
<circle cx="489.3" cy="796.8" r="2.25" fill="#b4161b" stroke="#fff" stroke-width="0.3" stroke-opacity="0.6"/>
<path d="M425.8,624.7 V842.5" stroke="#ff2b2b" stroke-width="1" stroke-dasharray="2.2 1.1"/>
<path d="M392.4,802.3 H685" stroke="#ff2b2b" stroke-width="1" stroke-dasharray="2.2 1.1"/>
<path d="M451.4,632.5 L463.6,627.8" stroke="#333" stroke-width="0.7"/>
<text x="466.6" y="629.3" font-size="8.2" text-anchor="start" textLength="24.9" lengthAdjust="spacingAndGlyphs">DCTN2</text>
<path d="M440.1,708.8 L433.5,721.1" stroke="#333" stroke-width="0.7"/>
<text x="432.9" y="705.6" font-size="8.2" text-anchor="start" textLength="19.0" lengthAdjust="spacingAndGlyphs">MICB</text>
<path d="M473.4,714.9 L462.6,723.7" stroke="#333" stroke-width="0.7"/>
<text x="466.6" y="711.9" font-size="8.2" text-anchor="start" textLength="18.4" lengthAdjust="spacingAndGlyphs">MICA</text>
<path d="M432.5,750.3 L428.8,770.7" stroke="#333" stroke-width="0.7"/>
<text x="422.7" y="748.5" font-size="8.2" text-anchor="start" textLength="18.4" lengthAdjust="spacingAndGlyphs">ITIH3</text>
<path d="M455.4,750.9 L446.2,761.5" stroke="#333" stroke-width="0.7"/>
<text x="448.9" y="749.1" font-size="8.2" text-anchor="start" textLength="23.5" lengthAdjust="spacingAndGlyphs">KEAP1</text>
<path d="M512.6,744.8 L519.2,757.4" stroke="#333" stroke-width="0.7"/>
<text x="487.7" y="742.6" font-size="8.2" text-anchor="start" textLength="30.0" lengthAdjust="spacingAndGlyphs">HSPA1A</text>
<path d="M527,720.2 L525.1,733.2" stroke="#333" stroke-width="0.7"/>
<text x="518.4" y="718.0" font-size="8.2" text-anchor="start" textLength="29.7" lengthAdjust="spacingAndGlyphs">HSPA1B</text>
<path d="M550.8,733.2 L543.2,744" stroke="#333" stroke-width="0.7"/>
<text x="543.7" y="729.9" font-size="8.2" text-anchor="start" textLength="29.2" lengthAdjust="spacingAndGlyphs">IZUMO1</text>
<path d="M548.6,762.9 L537.8,771" stroke="#333" stroke-width="0.7"/>
<text x="540.0" y="761.8" font-size="8.2" text-anchor="start" textLength="30.8" lengthAdjust="spacingAndGlyphs">NUDT21</text>
<path d="M609.4,749.4 L603.4,760.8" stroke="#333" stroke-width="0.7"/>
<text x="600.5" y="746.9" font-size="8.2" text-anchor="start" textLength="22.9" lengthAdjust="spacingAndGlyphs">FABP3</text>
<path d="M669.3,726.5 L670.7,740" stroke="#333" stroke-width="0.7"/>
<text x="645.3" y="723.4" font-size="8.2" text-anchor="start" textLength="36.2" lengthAdjust="spacingAndGlyphs">GABARAP</text>
<path d="M636.4,788.6 L624.2,794" stroke="#333" stroke-width="0.7"/>
<text x="638.3" y="788.2" font-size="8.2" text-anchor="start" textLength="29.1" lengthAdjust="spacingAndGlyphs">COL28A</text>
</svg></body></html>
